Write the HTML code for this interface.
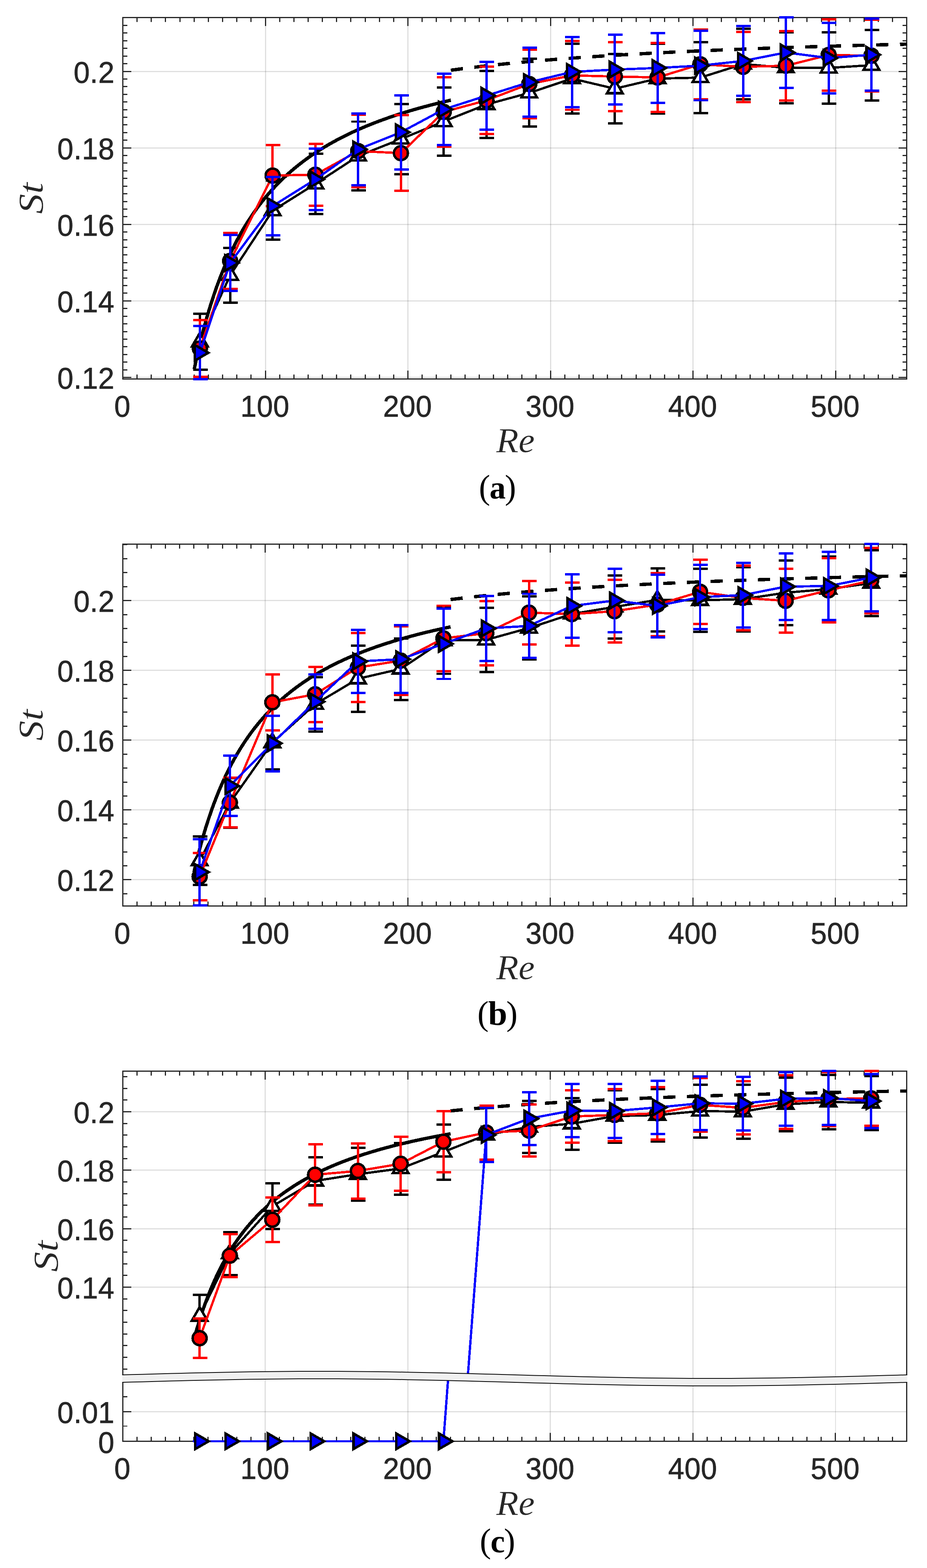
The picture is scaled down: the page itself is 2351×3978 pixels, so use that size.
<!DOCTYPE html>
<html lang="en"><head><meta charset="utf-8"><title>Strouhal number versus Reynolds number</title>
<style>html,body{margin:0;padding:0;background:#fff}body{width:2351px;height:3978px;overflow:hidden}svg{display:block}.tk{font-family:"Liberation Sans",sans-serif;font-size:75px;fill:#262626;stroke:#262626;stroke-width:0.9px;letter-spacing:0.6px}.ax{font-family:"Liberation Serif",serif;font-style:italic;font-size:89px;fill:#262626;stroke:#fff;stroke-width:0.5px}.cp{font-family:"Liberation Serif",serif;font-size:86px;fill:#000;letter-spacing:-3px}.cp tspan{font-weight:bold;font-size:82px}.cp .rp{font-weight:normal;font-size:86px}</style></head><body>
<svg width="2351" height="3978" viewBox="0 0 2351 3978">
<rect width="2351" height="3978" fill="#fff"/>
<g id="plot-a">
<g class="grid">
<rect x="672" y="44.5" width="3" height="917" fill="#262626" fill-opacity="0.15"/>
<rect x="1033" y="44.5" width="3" height="917" fill="#262626" fill-opacity="0.15"/>
<rect x="1395" y="44.5" width="3" height="917" fill="#262626" fill-opacity="0.15"/>
<rect x="1756" y="44.5" width="3" height="917" fill="#262626" fill-opacity="0.15"/>
<rect x="2118" y="44.5" width="3" height="917" fill="#262626" fill-opacity="0.15"/>
<rect x="311.5" y="956" width="1988" height="3" fill="#262626" fill-opacity="0.15"/>
<rect x="311.5" y="762" width="1988" height="3" fill="#262626" fill-opacity="0.15"/>
<rect x="311.5" y="568" width="1988" height="3" fill="#262626" fill-opacity="0.15"/>
<rect x="311.5" y="374" width="1988" height="3" fill="#262626" fill-opacity="0.15"/>
<rect x="311.5" y="180" width="1988" height="3" fill="#262626" fill-opacity="0.15"/>
</g>
<g class="axes">
<rect x="311.5" y="44.5" width="1988" height="917" fill="none" stroke="#262626" stroke-width="3"/>
<rect x="672" y="940.2" width="3" height="21.3" fill="#262626"/>
<rect x="1033" y="940.2" width="3" height="21.3" fill="#262626"/>
<rect x="1395" y="940.2" width="3" height="21.3" fill="#262626"/>
<rect x="1756" y="940.2" width="3" height="21.3" fill="#262626"/>
<rect x="2118" y="940.2" width="3" height="21.3" fill="#262626"/>
<rect x="346" y="950.2" width="3" height="11.3" fill="#262626"/>
<rect x="382" y="950.2" width="3" height="11.3" fill="#262626"/>
<rect x="418" y="950.2" width="3" height="11.3" fill="#262626"/>
<rect x="455" y="950.2" width="3" height="11.3" fill="#262626"/>
<rect x="491" y="950.2" width="3" height="11.3" fill="#262626"/>
<rect x="527" y="950.2" width="3" height="11.3" fill="#262626"/>
<rect x="563" y="950.2" width="3" height="11.3" fill="#262626"/>
<rect x="599" y="950.2" width="3" height="11.3" fill="#262626"/>
<rect x="635" y="950.2" width="3" height="11.3" fill="#262626"/>
<rect x="708" y="950.2" width="3" height="11.3" fill="#262626"/>
<rect x="744" y="950.2" width="3" height="11.3" fill="#262626"/>
<rect x="780" y="950.2" width="3" height="11.3" fill="#262626"/>
<rect x="816" y="950.2" width="3" height="11.3" fill="#262626"/>
<rect x="852" y="950.2" width="3" height="11.3" fill="#262626"/>
<rect x="888" y="950.2" width="3" height="11.3" fill="#262626"/>
<rect x="925" y="950.2" width="3" height="11.3" fill="#262626"/>
<rect x="961" y="950.2" width="3" height="11.3" fill="#262626"/>
<rect x="997" y="950.2" width="3" height="11.3" fill="#262626"/>
<rect x="1069" y="950.2" width="3" height="11.3" fill="#262626"/>
<rect x="1105" y="950.2" width="3" height="11.3" fill="#262626"/>
<rect x="1142" y="950.2" width="3" height="11.3" fill="#262626"/>
<rect x="1178" y="950.2" width="3" height="11.3" fill="#262626"/>
<rect x="1214" y="950.2" width="3" height="11.3" fill="#262626"/>
<rect x="1250" y="950.2" width="3" height="11.3" fill="#262626"/>
<rect x="1286" y="950.2" width="3" height="11.3" fill="#262626"/>
<rect x="1322" y="950.2" width="3" height="11.3" fill="#262626"/>
<rect x="1358" y="950.2" width="3" height="11.3" fill="#262626"/>
<rect x="1431" y="950.2" width="3" height="11.3" fill="#262626"/>
<rect x="1467" y="950.2" width="3" height="11.3" fill="#262626"/>
<rect x="1503" y="950.2" width="3" height="11.3" fill="#262626"/>
<rect x="1539" y="950.2" width="3" height="11.3" fill="#262626"/>
<rect x="1575" y="950.2" width="3" height="11.3" fill="#262626"/>
<rect x="1612" y="950.2" width="3" height="11.3" fill="#262626"/>
<rect x="1648" y="950.2" width="3" height="11.3" fill="#262626"/>
<rect x="1684" y="950.2" width="3" height="11.3" fill="#262626"/>
<rect x="1720" y="950.2" width="3" height="11.3" fill="#262626"/>
<rect x="1792" y="950.2" width="3" height="11.3" fill="#262626"/>
<rect x="1828" y="950.2" width="3" height="11.3" fill="#262626"/>
<rect x="1865" y="950.2" width="3" height="11.3" fill="#262626"/>
<rect x="1901" y="950.2" width="3" height="11.3" fill="#262626"/>
<rect x="1937" y="950.2" width="3" height="11.3" fill="#262626"/>
<rect x="1973" y="950.2" width="3" height="11.3" fill="#262626"/>
<rect x="2009" y="950.2" width="3" height="11.3" fill="#262626"/>
<rect x="2045" y="950.2" width="3" height="11.3" fill="#262626"/>
<rect x="2082" y="950.2" width="3" height="11.3" fill="#262626"/>
<rect x="2154" y="950.2" width="3" height="11.3" fill="#262626"/>
<rect x="2190" y="950.2" width="3" height="11.3" fill="#262626"/>
<rect x="2226" y="950.2" width="3" height="11.3" fill="#262626"/>
<rect x="2262" y="950.2" width="3" height="11.3" fill="#262626"/>
<rect x="672" y="44.5" width="3" height="21.5" fill="#262626"/>
<rect x="1033" y="44.5" width="3" height="21.5" fill="#262626"/>
<rect x="1395" y="44.5" width="3" height="21.5" fill="#262626"/>
<rect x="1756" y="44.5" width="3" height="21.5" fill="#262626"/>
<rect x="2118" y="44.5" width="3" height="21.5" fill="#262626"/>
<rect x="346" y="44.5" width="3" height="11.3" fill="#262626"/>
<rect x="382" y="44.5" width="3" height="11.3" fill="#262626"/>
<rect x="418" y="44.5" width="3" height="11.3" fill="#262626"/>
<rect x="455" y="44.5" width="3" height="11.3" fill="#262626"/>
<rect x="491" y="44.5" width="3" height="11.3" fill="#262626"/>
<rect x="527" y="44.5" width="3" height="11.3" fill="#262626"/>
<rect x="563" y="44.5" width="3" height="11.3" fill="#262626"/>
<rect x="599" y="44.5" width="3" height="11.3" fill="#262626"/>
<rect x="635" y="44.5" width="3" height="11.3" fill="#262626"/>
<rect x="708" y="44.5" width="3" height="11.3" fill="#262626"/>
<rect x="744" y="44.5" width="3" height="11.3" fill="#262626"/>
<rect x="780" y="44.5" width="3" height="11.3" fill="#262626"/>
<rect x="816" y="44.5" width="3" height="11.3" fill="#262626"/>
<rect x="852" y="44.5" width="3" height="11.3" fill="#262626"/>
<rect x="888" y="44.5" width="3" height="11.3" fill="#262626"/>
<rect x="925" y="44.5" width="3" height="11.3" fill="#262626"/>
<rect x="961" y="44.5" width="3" height="11.3" fill="#262626"/>
<rect x="997" y="44.5" width="3" height="11.3" fill="#262626"/>
<rect x="1069" y="44.5" width="3" height="11.3" fill="#262626"/>
<rect x="1105" y="44.5" width="3" height="11.3" fill="#262626"/>
<rect x="1142" y="44.5" width="3" height="11.3" fill="#262626"/>
<rect x="1178" y="44.5" width="3" height="11.3" fill="#262626"/>
<rect x="1214" y="44.5" width="3" height="11.3" fill="#262626"/>
<rect x="1250" y="44.5" width="3" height="11.3" fill="#262626"/>
<rect x="1286" y="44.5" width="3" height="11.3" fill="#262626"/>
<rect x="1322" y="44.5" width="3" height="11.3" fill="#262626"/>
<rect x="1358" y="44.5" width="3" height="11.3" fill="#262626"/>
<rect x="1431" y="44.5" width="3" height="11.3" fill="#262626"/>
<rect x="1467" y="44.5" width="3" height="11.3" fill="#262626"/>
<rect x="1503" y="44.5" width="3" height="11.3" fill="#262626"/>
<rect x="1539" y="44.5" width="3" height="11.3" fill="#262626"/>
<rect x="1575" y="44.5" width="3" height="11.3" fill="#262626"/>
<rect x="1612" y="44.5" width="3" height="11.3" fill="#262626"/>
<rect x="1648" y="44.5" width="3" height="11.3" fill="#262626"/>
<rect x="1684" y="44.5" width="3" height="11.3" fill="#262626"/>
<rect x="1720" y="44.5" width="3" height="11.3" fill="#262626"/>
<rect x="1792" y="44.5" width="3" height="11.3" fill="#262626"/>
<rect x="1828" y="44.5" width="3" height="11.3" fill="#262626"/>
<rect x="1865" y="44.5" width="3" height="11.3" fill="#262626"/>
<rect x="1901" y="44.5" width="3" height="11.3" fill="#262626"/>
<rect x="1937" y="44.5" width="3" height="11.3" fill="#262626"/>
<rect x="1973" y="44.5" width="3" height="11.3" fill="#262626"/>
<rect x="2009" y="44.5" width="3" height="11.3" fill="#262626"/>
<rect x="2045" y="44.5" width="3" height="11.3" fill="#262626"/>
<rect x="2082" y="44.5" width="3" height="11.3" fill="#262626"/>
<rect x="2154" y="44.5" width="3" height="11.3" fill="#262626"/>
<rect x="2190" y="44.5" width="3" height="11.3" fill="#262626"/>
<rect x="2226" y="44.5" width="3" height="11.3" fill="#262626"/>
<rect x="2262" y="44.5" width="3" height="11.3" fill="#262626"/>
<rect x="311.5" y="956" width="21.5" height="3" fill="#262626"/>
<rect x="2279" y="956" width="20.5" height="3" fill="#262626"/>
<rect x="311.5" y="937" width="11.5" height="3" fill="#262626"/>
<rect x="2289" y="937" width="10.5" height="3" fill="#262626"/>
<rect x="311.5" y="917" width="11.5" height="3" fill="#262626"/>
<rect x="2289" y="917" width="10.5" height="3" fill="#262626"/>
<rect x="311.5" y="898" width="11.5" height="3" fill="#262626"/>
<rect x="2289" y="898" width="10.5" height="3" fill="#262626"/>
<rect x="311.5" y="878" width="11.5" height="3" fill="#262626"/>
<rect x="2289" y="878" width="10.5" height="3" fill="#262626"/>
<rect x="311.5" y="859" width="11.5" height="3" fill="#262626"/>
<rect x="2289" y="859" width="10.5" height="3" fill="#262626"/>
<rect x="311.5" y="840" width="11.5" height="3" fill="#262626"/>
<rect x="2289" y="840" width="10.5" height="3" fill="#262626"/>
<rect x="311.5" y="820" width="11.5" height="3" fill="#262626"/>
<rect x="2289" y="820" width="10.5" height="3" fill="#262626"/>
<rect x="311.5" y="801" width="11.5" height="3" fill="#262626"/>
<rect x="2289" y="801" width="10.5" height="3" fill="#262626"/>
<rect x="311.5" y="781" width="11.5" height="3" fill="#262626"/>
<rect x="2289" y="781" width="10.5" height="3" fill="#262626"/>
<rect x="311.5" y="762" width="21.5" height="3" fill="#262626"/>
<rect x="2279" y="762" width="20.5" height="3" fill="#262626"/>
<rect x="311.5" y="742" width="11.5" height="3" fill="#262626"/>
<rect x="2289" y="742" width="10.5" height="3" fill="#262626"/>
<rect x="311.5" y="723" width="11.5" height="3" fill="#262626"/>
<rect x="2289" y="723" width="10.5" height="3" fill="#262626"/>
<rect x="311.5" y="704" width="11.5" height="3" fill="#262626"/>
<rect x="2289" y="704" width="10.5" height="3" fill="#262626"/>
<rect x="311.5" y="684" width="11.5" height="3" fill="#262626"/>
<rect x="2289" y="684" width="10.5" height="3" fill="#262626"/>
<rect x="311.5" y="665" width="11.5" height="3" fill="#262626"/>
<rect x="2289" y="665" width="10.5" height="3" fill="#262626"/>
<rect x="311.5" y="645" width="11.5" height="3" fill="#262626"/>
<rect x="2289" y="645" width="10.5" height="3" fill="#262626"/>
<rect x="311.5" y="626" width="11.5" height="3" fill="#262626"/>
<rect x="2289" y="626" width="10.5" height="3" fill="#262626"/>
<rect x="311.5" y="607" width="11.5" height="3" fill="#262626"/>
<rect x="2289" y="607" width="10.5" height="3" fill="#262626"/>
<rect x="311.5" y="587" width="11.5" height="3" fill="#262626"/>
<rect x="2289" y="587" width="10.5" height="3" fill="#262626"/>
<rect x="311.5" y="568" width="21.5" height="3" fill="#262626"/>
<rect x="2279" y="568" width="20.5" height="3" fill="#262626"/>
<rect x="311.5" y="548" width="11.5" height="3" fill="#262626"/>
<rect x="2289" y="548" width="10.5" height="3" fill="#262626"/>
<rect x="311.5" y="529" width="11.5" height="3" fill="#262626"/>
<rect x="2289" y="529" width="10.5" height="3" fill="#262626"/>
<rect x="311.5" y="510" width="11.5" height="3" fill="#262626"/>
<rect x="2289" y="510" width="10.5" height="3" fill="#262626"/>
<rect x="311.5" y="490" width="11.5" height="3" fill="#262626"/>
<rect x="2289" y="490" width="10.5" height="3" fill="#262626"/>
<rect x="311.5" y="471" width="11.5" height="3" fill="#262626"/>
<rect x="2289" y="471" width="10.5" height="3" fill="#262626"/>
<rect x="311.5" y="451" width="11.5" height="3" fill="#262626"/>
<rect x="2289" y="451" width="10.5" height="3" fill="#262626"/>
<rect x="311.5" y="432" width="11.5" height="3" fill="#262626"/>
<rect x="2289" y="432" width="10.5" height="3" fill="#262626"/>
<rect x="311.5" y="412" width="11.5" height="3" fill="#262626"/>
<rect x="2289" y="412" width="10.5" height="3" fill="#262626"/>
<rect x="311.5" y="393" width="11.5" height="3" fill="#262626"/>
<rect x="2289" y="393" width="10.5" height="3" fill="#262626"/>
<rect x="311.5" y="374" width="21.5" height="3" fill="#262626"/>
<rect x="2279" y="374" width="20.5" height="3" fill="#262626"/>
<rect x="311.5" y="354" width="11.5" height="3" fill="#262626"/>
<rect x="2289" y="354" width="10.5" height="3" fill="#262626"/>
<rect x="311.5" y="335" width="11.5" height="3" fill="#262626"/>
<rect x="2289" y="335" width="10.5" height="3" fill="#262626"/>
<rect x="311.5" y="315" width="11.5" height="3" fill="#262626"/>
<rect x="2289" y="315" width="10.5" height="3" fill="#262626"/>
<rect x="311.5" y="296" width="11.5" height="3" fill="#262626"/>
<rect x="2289" y="296" width="10.5" height="3" fill="#262626"/>
<rect x="311.5" y="277" width="11.5" height="3" fill="#262626"/>
<rect x="2289" y="277" width="10.5" height="3" fill="#262626"/>
<rect x="311.5" y="257" width="11.5" height="3" fill="#262626"/>
<rect x="2289" y="257" width="10.5" height="3" fill="#262626"/>
<rect x="311.5" y="238" width="11.5" height="3" fill="#262626"/>
<rect x="2289" y="238" width="10.5" height="3" fill="#262626"/>
<rect x="311.5" y="218" width="11.5" height="3" fill="#262626"/>
<rect x="2289" y="218" width="10.5" height="3" fill="#262626"/>
<rect x="311.5" y="199" width="11.5" height="3" fill="#262626"/>
<rect x="2289" y="199" width="10.5" height="3" fill="#262626"/>
<rect x="311.5" y="180" width="21.5" height="3" fill="#262626"/>
<rect x="2279" y="180" width="20.5" height="3" fill="#262626"/>
<rect x="311.5" y="160" width="11.5" height="3" fill="#262626"/>
<rect x="2289" y="160" width="10.5" height="3" fill="#262626"/>
<rect x="311.5" y="141" width="11.5" height="3" fill="#262626"/>
<rect x="2289" y="141" width="10.5" height="3" fill="#262626"/>
<rect x="311.5" y="121" width="11.5" height="3" fill="#262626"/>
<rect x="2289" y="121" width="10.5" height="3" fill="#262626"/>
<rect x="311.5" y="102" width="11.5" height="3" fill="#262626"/>
<rect x="2289" y="102" width="10.5" height="3" fill="#262626"/>
<rect x="311.5" y="82" width="11.5" height="3" fill="#262626"/>
<rect x="2289" y="82" width="10.5" height="3" fill="#262626"/>
<rect x="311.5" y="63" width="11.5" height="3" fill="#262626"/>
<rect x="2289" y="63" width="10.5" height="3" fill="#262626"/>
</g>
<g class="data" shape-rendering="crispEdges">
<g class="fit">
<polyline points="492.5,937.02 499.73,903.46 506.96,872.39 514.2,843.54 521.43,816.68 528.66,791.6 535.89,768.15 543.12,746.16 550.36,725.51 557.59,706.06 564.82,687.73 572.05,670.42 579.28,654.05 586.52,638.53 593.75,623.82 600.98,609.83 608.21,596.53 615.44,583.87 622.68,571.79 629.91,560.26 637.14,549.24 644.37,538.71 651.6,528.62 658.84,518.95 666.07,509.67 673.3,500.77 680.53,492.22 687.76,483.99 695,476.08 702.23,468.46 709.46,461.11 716.69,454.03 723.92,447.2 731.16,440.6 738.39,434.22 745.62,428.06 752.85,422.1 760.08,416.34 767.32,410.75 774.55,405.34 781.78,400.1 789.01,395.01 796.24,390.08 803.48,385.29 810.71,380.64 817.94,376.13 825.17,371.74 832.4,367.47 839.64,363.32 846.87,359.28 854.1,355.35 861.33,351.53 868.56,347.8 875.8,344.17 883.03,340.63 890.26,337.18 897.49,333.81 904.72,330.53 911.96,327.32 919.19,324.19 926.42,321.14 933.65,318.16 940.88,315.24 948.12,312.39 955.35,309.61 962.58,306.88 969.81,304.22 977.04,301.61 984.28,299.06 991.51,296.57 998.74,294.13 1005.97,291.73 1013.2,289.39 1020.44,287.1 1027.67,284.85 1034.9,282.65 1042.13,280.49 1049.36,278.37 1056.6,276.29 1063.83,274.26 1071.06,272.26 1078.29,270.3 1085.52,268.38 1092.76,266.49 1099.99,264.64 1107.22,262.82 1114.45,261.03 1121.68,259.28 1128.92,257.55 1136.15,255.86 1143.38,254.2" fill="none" stroke="#000" stroke-width="8.5"/>
<polyline points="1143.38,178.15 1172.31,174.33 1201.24,170.76 1230.16,167.41 1259.09,164.27 1288.02,161.31 1316.95,158.53 1345.88,155.9 1374.8,153.41 1403.73,151.06 1432.66,148.82 1461.59,146.7 1490.52,144.69 1519.44,142.77 1548.37,140.94 1577.3,139.19 1606.23,137.52 1635.16,135.93 1664.08,134.4 1693.01,132.94 1721.94,131.53 1750.87,130.18 1779.8,128.89 1808.72,127.65 1837.65,126.45 1866.58,125.3 1895.51,124.19 1924.44,123.12 1953.36,122.09 1982.29,121.09 2011.22,120.13 2040.15,119.2 2069.08,118.3 2098,117.42 2126.93,116.58 2155.86,115.76 2184.79,114.97 2213.72,114.21 2242.64,113.46 2271.57,112.74 2300.5,112.04" fill="none" stroke="#000" stroke-width="8.5" stroke-dasharray="30.9 29.18"/>
</g>
<g class="k">
<path d="M506.96 795.9V938M489.66 795.9H526.66M489.66 938H526.66" stroke="#000" stroke-width="5.9" fill="none"/>
<path d="M583.62 629.1V767.8M566.32 629.1H603.32M566.32 767.8H603.32" stroke="#000" stroke-width="5.9" fill="none"/>
<path d="M691.38 457.7V607.8M674.08 457.7H711.08M674.08 607.8H711.08" stroke="#000" stroke-width="5.9" fill="none"/>
<path d="M799.86 389.9V543M782.56 389.9H819.56M782.56 543H819.56" stroke="#000" stroke-width="5.9" fill="none"/>
<path d="M908.34 308.5V483.2M891.04 308.5H928.04M891.04 483.2H928.04" stroke="#000" stroke-width="5.9" fill="none"/>
<path d="M1016.82 263.9V441.8M999.52 263.9H1036.52M999.52 441.8H1036.52" stroke="#000" stroke-width="5.9" fill="none"/>
<path d="M1125.3 221.8V394.6M1108 221.8H1145M1108 394.6H1145" stroke="#000" stroke-width="5.9" fill="none"/>
<path d="M1233.78 180V349.9M1216.48 180H1253.48M1216.48 349.9H1253.48" stroke="#000" stroke-width="5.9" fill="none"/>
<path d="M1342.26 149.3V321.1M1324.96 149.3H1361.96M1324.96 321.1H1361.96" stroke="#000" stroke-width="5.9" fill="none"/>
<path d="M1450.74 110.9V288M1433.44 110.9H1470.44M1433.44 288H1470.44" stroke="#000" stroke-width="5.9" fill="none"/>
<path d="M1559.22 137V313M1541.92 137H1578.92M1541.92 313H1578.92" stroke="#000" stroke-width="5.9" fill="none"/>
<path d="M1667.7 111.4V287.7M1650.4 111.4H1687.4M1650.4 287.7H1687.4" stroke="#000" stroke-width="5.9" fill="none"/>
<path d="M1776.18 107.1V286.6M1758.88 107.1H1795.88M1758.88 286.6H1795.88" stroke="#000" stroke-width="5.9" fill="none"/>
<path d="M1884.66 72.6V252.4M1867.36 72.6H1904.36M1867.36 252.4H1904.36" stroke="#000" stroke-width="5.9" fill="none"/>
<path d="M1993.14 82V261.6M1975.84 82H2012.84M1975.84 261.6H2012.84" stroke="#000" stroke-width="5.9" fill="none"/>
<path d="M2101.62 81.8V262.8M2084.32 81.8H2121.32M2084.32 262.8H2121.32" stroke="#000" stroke-width="5.9" fill="none"/>
<path d="M2210.1 75.8V254.8M2192.8 75.8H2229.8M2192.8 254.8H2229.8" stroke="#000" stroke-width="5.9" fill="none"/>
<polyline points="506.96,867 583.62,698.5 691.38,534.6 799.86,466.5 908.34,395.8 1016.82,352.8 1125.3,308.2 1233.78,265 1342.26,235.7 1450.74,199.4 1559.22,225 1667.7,199.4 1776.18,196.9 1884.66,162.5 1993.14,171.8 2101.62,172.3 2210.1,165.3" fill="none" stroke="#000" stroke-width="5.8" stroke-linejoin="round"/>
<polygon points="506.96,844.2 487.22,878.4 526.71,878.4" fill="#fff" stroke="#000" stroke-width="6.2" stroke-miterlimit="10"/>
<polygon points="583.62,675.7 563.88,709.9 603.37,709.9" fill="#fff" stroke="#000" stroke-width="6.2" stroke-miterlimit="10"/>
<polygon points="691.38,511.8 671.64,546 711.12,546" fill="#fff" stroke="#000" stroke-width="6.2" stroke-miterlimit="10"/>
<polygon points="799.86,443.7 780.12,477.9 819.6,477.9" fill="#fff" stroke="#000" stroke-width="6.2" stroke-miterlimit="10"/>
<polygon points="908.34,373 888.6,407.2 928.08,407.2" fill="#fff" stroke="#000" stroke-width="6.2" stroke-miterlimit="10"/>
<polygon points="1016.82,330 997.08,364.2 1036.56,364.2" fill="#fff" stroke="#000" stroke-width="6.2" stroke-miterlimit="10"/>
<polygon points="1125.3,285.4 1105.56,319.6 1145.04,319.6" fill="#fff" stroke="#000" stroke-width="6.2" stroke-miterlimit="10"/>
<polygon points="1233.78,242.2 1214.04,276.4 1253.52,276.4" fill="#fff" stroke="#000" stroke-width="6.2" stroke-miterlimit="10"/>
<polygon points="1342.26,212.9 1322.52,247.1 1362,247.1" fill="#fff" stroke="#000" stroke-width="6.2" stroke-miterlimit="10"/>
<polygon points="1450.74,176.6 1431,210.8 1470.48,210.8" fill="#fff" stroke="#000" stroke-width="6.2" stroke-miterlimit="10"/>
<polygon points="1559.22,202.2 1539.48,236.4 1578.96,236.4" fill="#fff" stroke="#000" stroke-width="6.2" stroke-miterlimit="10"/>
<polygon points="1667.7,176.6 1647.96,210.8 1687.44,210.8" fill="#fff" stroke="#000" stroke-width="6.2" stroke-miterlimit="10"/>
<polygon points="1776.18,174.1 1756.44,208.3 1795.92,208.3" fill="#fff" stroke="#000" stroke-width="6.2" stroke-miterlimit="10"/>
<polygon points="1884.66,139.7 1864.92,173.9 1904.4,173.9" fill="#fff" stroke="#000" stroke-width="6.2" stroke-miterlimit="10"/>
<polygon points="1993.14,149 1973.4,183.2 2012.88,183.2" fill="#fff" stroke="#000" stroke-width="6.2" stroke-miterlimit="10"/>
<polygon points="2101.62,149.5 2081.88,183.7 2121.36,183.7" fill="#fff" stroke="#000" stroke-width="6.2" stroke-miterlimit="10"/>
<polygon points="2210.1,142.5 2190.36,176.7 2229.84,176.7" fill="#fff" stroke="#000" stroke-width="6.2" stroke-miterlimit="10"/>
</g>
<g class="r">
<path d="M506.96 812.1V956.2M489.66 812.1H526.66M489.66 956.2H526.66" stroke="#f00" stroke-width="5.9" fill="none"/>
<path d="M583.62 590.7V733.2M566.32 590.7H603.32M566.32 733.2H603.32" stroke="#f00" stroke-width="5.9" fill="none"/>
<path d="M691.38 368.4V522.8M674.08 368.4H711.08M674.08 522.8H711.08" stroke="#f00" stroke-width="5.9" fill="none"/>
<path d="M799.86 364.6V522M782.56 364.6H819.56M782.56 522H819.56" stroke="#f00" stroke-width="5.9" fill="none"/>
<path d="M908.34 290.8V474.8M891.04 290.8H928.04M891.04 474.8H928.04" stroke="#f00" stroke-width="5.9" fill="none"/>
<path d="M1016.82 291.9V484.1M999.52 291.9H1036.52M999.52 484.1H1036.52" stroke="#f00" stroke-width="5.9" fill="none"/>
<path d="M1125.3 195.7V372.2M1108 195.7H1145M1108 372.2H1145" stroke="#f00" stroke-width="5.9" fill="none"/>
<path d="M1233.78 169V339.9M1216.48 169H1253.48M1216.48 339.9H1253.48" stroke="#f00" stroke-width="5.9" fill="none"/>
<path d="M1342.26 126.2V300M1324.96 126.2H1361.96M1324.96 300H1361.96" stroke="#f00" stroke-width="5.9" fill="none"/>
<path d="M1450.74 104.1V278.5M1433.44 104.1H1470.44M1433.44 278.5H1470.44" stroke="#f00" stroke-width="5.9" fill="none"/>
<path d="M1559.22 107.1V282M1541.92 107.1H1578.92M1541.92 282H1578.92" stroke="#f00" stroke-width="5.9" fill="none"/>
<path d="M1667.7 109V284M1650.4 109H1687.4M1650.4 284H1687.4" stroke="#f00" stroke-width="5.9" fill="none"/>
<path d="M1776.18 74.5V251.8M1758.88 74.5H1795.88M1758.88 251.8H1795.88" stroke="#f00" stroke-width="5.9" fill="none"/>
<path d="M1884.66 80.7V259.1M1867.36 80.7H1904.36M1867.36 259.1H1904.36" stroke="#f00" stroke-width="5.9" fill="none"/>
<path d="M1993.14 78.6V254.8M1975.84 78.6H2012.84M1975.84 254.8H2012.84" stroke="#f00" stroke-width="5.9" fill="none"/>
<path d="M2101.62 49.2V230M2084.32 49.2H2121.32M2084.32 230H2121.32" stroke="#f00" stroke-width="5.9" fill="none"/>
<path d="M2210.1 50V232.4M2192.8 50H2229.8M2192.8 232.4H2229.8" stroke="#f00" stroke-width="5.9" fill="none"/>
<polyline points="506.96,884.1 583.62,662 691.38,445.4 799.86,443.3 908.34,383.3 1016.82,388.5 1125.3,284 1233.78,254.6 1342.26,213.1 1450.74,191.3 1559.22,194.2 1667.7,196.4 1776.18,163.2 1884.66,169.6 1993.14,166.6 2101.62,139.6 2210.1,141.2" fill="none" stroke="#f00" stroke-width="5.8" stroke-linejoin="round"/>
<circle cx="506.96" cy="884.1" r="17.75" fill="#f00" stroke="#000" stroke-width="6.2"/>
<circle cx="583.62" cy="662" r="17.75" fill="#f00" stroke="#000" stroke-width="6.2"/>
<circle cx="691.38" cy="445.4" r="17.75" fill="#f00" stroke="#000" stroke-width="6.2"/>
<circle cx="799.86" cy="443.3" r="17.75" fill="#f00" stroke="#000" stroke-width="6.2"/>
<circle cx="908.34" cy="383.3" r="17.75" fill="#f00" stroke="#000" stroke-width="6.2"/>
<circle cx="1016.82" cy="388.5" r="17.75" fill="#f00" stroke="#000" stroke-width="6.2"/>
<circle cx="1125.3" cy="284" r="17.75" fill="#f00" stroke="#000" stroke-width="6.2"/>
<circle cx="1233.78" cy="254.6" r="17.75" fill="#f00" stroke="#000" stroke-width="6.2"/>
<circle cx="1342.26" cy="213.1" r="17.75" fill="#f00" stroke="#000" stroke-width="6.2"/>
<circle cx="1450.74" cy="191.3" r="17.75" fill="#f00" stroke="#000" stroke-width="6.2"/>
<circle cx="1559.22" cy="194.2" r="17.75" fill="#f00" stroke="#000" stroke-width="6.2"/>
<circle cx="1667.7" cy="196.4" r="17.75" fill="#f00" stroke="#000" stroke-width="6.2"/>
<circle cx="1776.18" cy="163.2" r="17.75" fill="#f00" stroke="#000" stroke-width="6.2"/>
<circle cx="1884.66" cy="169.6" r="17.75" fill="#f00" stroke="#000" stroke-width="6.2"/>
<circle cx="1993.14" cy="166.6" r="17.75" fill="#f00" stroke="#000" stroke-width="6.2"/>
<circle cx="2101.62" cy="139.6" r="17.75" fill="#f00" stroke="#000" stroke-width="6.2"/>
<circle cx="2210.1" cy="141.2" r="17.75" fill="#f00" stroke="#000" stroke-width="6.2"/>
</g>
<g class="b">
<path d="M506.96 827.2V962M489.66 827.2H526.66M489.66 962H526.66" stroke="#00f" stroke-width="5.9" fill="none"/>
<path d="M583.62 596.4V737.9M566.32 596.4H603.32M566.32 737.9H603.32" stroke="#00f" stroke-width="5.9" fill="none"/>
<path d="M691.38 448.7V596.9M674.08 448.7H711.08M674.08 596.9H711.08" stroke="#00f" stroke-width="5.9" fill="none"/>
<path d="M799.86 377.3V533M782.56 377.3H819.56M782.56 533H819.56" stroke="#00f" stroke-width="5.9" fill="none"/>
<path d="M908.34 288.3V469.7M891.04 288.3H928.04M891.04 469.7H928.04" stroke="#00f" stroke-width="5.9" fill="none"/>
<path d="M1016.82 242V429.9M999.52 242H1036.52M999.52 429.9H1036.52" stroke="#00f" stroke-width="5.9" fill="none"/>
<path d="M1125.3 186.8V367.7M1108 186.8H1145M1108 367.7H1145" stroke="#00f" stroke-width="5.9" fill="none"/>
<path d="M1233.78 156.9V329.1M1216.48 156.9H1253.48M1216.48 329.1H1253.48" stroke="#00f" stroke-width="5.9" fill="none"/>
<path d="M1342.26 120.8V296.4M1324.96 120.8H1361.96M1324.96 296.4H1361.96" stroke="#00f" stroke-width="5.9" fill="none"/>
<path d="M1450.74 93.9V271.8M1433.44 93.9H1470.44M1433.44 271.8H1470.44" stroke="#00f" stroke-width="5.9" fill="none"/>
<path d="M1559.22 87.7V265M1541.92 87.7H1578.92M1541.92 265H1578.92" stroke="#00f" stroke-width="5.9" fill="none"/>
<path d="M1667.7 83.9V261M1650.4 83.9H1687.4M1650.4 261H1687.4" stroke="#00f" stroke-width="5.9" fill="none"/>
<path d="M1776.18 78V254.5M1758.88 78H1795.88M1758.88 254.5H1795.88" stroke="#00f" stroke-width="5.9" fill="none"/>
<path d="M1884.66 65.8V242.9M1867.36 65.8H1904.36M1867.36 242.9H1904.36" stroke="#00f" stroke-width="5.9" fill="none"/>
<path d="M1993.14 43.6V222.8M1975.84 43.6H2012.84M1975.84 222.8H2012.84" stroke="#00f" stroke-width="5.9" fill="none"/>
<path d="M2101.62 58V236.7M2084.32 58H2121.32M2084.32 236.7H2121.32" stroke="#00f" stroke-width="5.9" fill="none"/>
<path d="M2210.1 46.9V230.2M2192.8 46.9H2229.8M2192.8 230.2H2229.8" stroke="#00f" stroke-width="5.9" fill="none"/>
<polyline points="506.96,895 583.62,667.1 691.38,522.8 799.86,455.1 908.34,379 1016.82,335.5 1125.3,277.5 1233.78,242.7 1342.26,208.6 1450.74,182.5 1559.22,176.5 1667.7,172.5 1776.18,166.5 1884.66,154.6 1993.14,133.2 2101.62,147.2 2210.1,138.9" fill="none" stroke="#00f" stroke-width="5.8" stroke-linejoin="round"/>
<polygon points="528.46,895 494.26,875.26 494.26,914.74" fill="#00f" stroke="#000" stroke-width="6.2" stroke-miterlimit="10"/>
<polygon points="605.12,667.1 570.92,647.36 570.92,686.84" fill="#00f" stroke="#000" stroke-width="6.2" stroke-miterlimit="10"/>
<polygon points="712.88,522.8 678.68,503.06 678.68,542.54" fill="#00f" stroke="#000" stroke-width="6.2" stroke-miterlimit="10"/>
<polygon points="821.36,455.1 787.16,435.36 787.16,474.84" fill="#00f" stroke="#000" stroke-width="6.2" stroke-miterlimit="10"/>
<polygon points="929.84,379 895.64,359.26 895.64,398.74" fill="#00f" stroke="#000" stroke-width="6.2" stroke-miterlimit="10"/>
<polygon points="1038.32,335.5 1004.12,315.76 1004.12,355.24" fill="#00f" stroke="#000" stroke-width="6.2" stroke-miterlimit="10"/>
<polygon points="1146.8,277.5 1112.6,257.76 1112.6,297.24" fill="#00f" stroke="#000" stroke-width="6.2" stroke-miterlimit="10"/>
<polygon points="1255.28,242.7 1221.08,222.96 1221.08,262.44" fill="#00f" stroke="#000" stroke-width="6.2" stroke-miterlimit="10"/>
<polygon points="1363.76,208.6 1329.56,188.86 1329.56,228.34" fill="#00f" stroke="#000" stroke-width="6.2" stroke-miterlimit="10"/>
<polygon points="1472.24,182.5 1438.04,162.76 1438.04,202.24" fill="#00f" stroke="#000" stroke-width="6.2" stroke-miterlimit="10"/>
<polygon points="1580.72,176.5 1546.52,156.76 1546.52,196.24" fill="#00f" stroke="#000" stroke-width="6.2" stroke-miterlimit="10"/>
<polygon points="1689.2,172.5 1655,152.76 1655,192.24" fill="#00f" stroke="#000" stroke-width="6.2" stroke-miterlimit="10"/>
<polygon points="1797.68,166.5 1763.48,146.76 1763.48,186.24" fill="#00f" stroke="#000" stroke-width="6.2" stroke-miterlimit="10"/>
<polygon points="1906.16,154.6 1871.96,134.86 1871.96,174.34" fill="#00f" stroke="#000" stroke-width="6.2" stroke-miterlimit="10"/>
<polygon points="2014.64,133.2 1980.44,113.46 1980.44,152.94" fill="#00f" stroke="#000" stroke-width="6.2" stroke-miterlimit="10"/>
<polygon points="2123.12,147.2 2088.92,127.46 2088.92,166.94" fill="#00f" stroke="#000" stroke-width="6.2" stroke-miterlimit="10"/>
<polygon points="2231.6,138.9 2197.4,119.16 2197.4,158.64" fill="#00f" stroke="#000" stroke-width="6.2" stroke-miterlimit="10"/>
</g>
</g>
<text transform="translate(290.59 986.3) scale(0.98 1.01)" text-anchor="end" class="tk">0.12</text>
<text transform="translate(290.59 792.3) scale(0.98 1.01)" text-anchor="end" class="tk">0.14</text>
<text transform="translate(290.59 598.3) scale(0.98 1.01)" text-anchor="end" class="tk">0.16</text>
<text transform="translate(290.59 404.3) scale(0.98 1.01)" text-anchor="end" class="tk">0.18</text>
<text transform="translate(290.59 210.3) scale(0.98 1.01)" text-anchor="end" class="tk">0.2</text>
<text transform="translate(310.5 1056.8) scale(0.98 1.01)" text-anchor="middle" class="tk">0</text>
<text transform="translate(672.04 1056.8) scale(0.98 1.01)" text-anchor="middle" class="tk">100</text>
<text transform="translate(1033.58 1056.8) scale(0.98 1.01)" text-anchor="middle" class="tk">200</text>
<text transform="translate(1395.12 1056.8) scale(0.98 1.01)" text-anchor="middle" class="tk">300</text>
<text transform="translate(1756.66 1056.8) scale(0.98 1.01)" text-anchor="middle" class="tk">400</text>
<text transform="translate(2118.2 1056.8) scale(0.98 1.01)" text-anchor="middle" class="tk">500</text>
<text transform="translate(107.7 503) rotate(-90) scale(1.15 1)" text-anchor="middle" class="ax">St</text>
<text transform="translate(1307.3 1147.4) scale(1.04 1)" text-anchor="middle" class="ax">Re</text>
<text x="1260.2" y="1264.9" text-anchor="middle" class="cp">(<tspan dx="1.4">a</tspan><tspan class="rp" dx="0.6">)</tspan></text>
</g>
<g id="plot-b">
<g class="grid">
<rect x="671" y="1380.5" width="3" height="918" fill="#262626" fill-opacity="0.15"/>
<rect x="1033" y="1380.5" width="3" height="918" fill="#262626" fill-opacity="0.15"/>
<rect x="1394" y="1380.5" width="3" height="918" fill="#262626" fill-opacity="0.15"/>
<rect x="1756" y="1380.5" width="3" height="918" fill="#262626" fill-opacity="0.15"/>
<rect x="2118" y="1380.5" width="2" height="918" fill="#262626" fill-opacity="0.15"/>
<rect x="311.5" y="2230" width="1988" height="3" fill="#262626" fill-opacity="0.15"/>
<rect x="311.5" y="2053" width="1988" height="3" fill="#262626" fill-opacity="0.15"/>
<rect x="311.5" y="1876" width="1988" height="3" fill="#262626" fill-opacity="0.15"/>
<rect x="311.5" y="1699" width="1988" height="3" fill="#262626" fill-opacity="0.15"/>
<rect x="311.5" y="1522" width="1988" height="3" fill="#262626" fill-opacity="0.15"/>
</g>
<g class="axes">
<rect x="311.5" y="1380.5" width="1988" height="918" fill="none" stroke="#262626" stroke-width="3"/>
<rect x="671" y="2277.2" width="3" height="21.3" fill="#262626"/>
<rect x="1033" y="2277.2" width="3" height="21.3" fill="#262626"/>
<rect x="1394" y="2277.2" width="3" height="21.3" fill="#262626"/>
<rect x="1756" y="2277.2" width="3" height="21.3" fill="#262626"/>
<rect x="2117" y="2277.2" width="3" height="21.3" fill="#262626"/>
<rect x="346" y="2287.2" width="3" height="11.3" fill="#262626"/>
<rect x="382" y="2287.2" width="3" height="11.3" fill="#262626"/>
<rect x="418" y="2287.2" width="3" height="11.3" fill="#262626"/>
<rect x="454" y="2287.2" width="3" height="11.3" fill="#262626"/>
<rect x="490" y="2287.2" width="3" height="11.3" fill="#262626"/>
<rect x="526" y="2287.2" width="3" height="11.3" fill="#262626"/>
<rect x="563" y="2287.2" width="3" height="11.3" fill="#262626"/>
<rect x="599" y="2287.2" width="3" height="11.3" fill="#262626"/>
<rect x="635" y="2287.2" width="3" height="11.3" fill="#262626"/>
<rect x="707" y="2287.2" width="3" height="11.3" fill="#262626"/>
<rect x="743" y="2287.2" width="3" height="11.3" fill="#262626"/>
<rect x="780" y="2287.2" width="3" height="11.3" fill="#262626"/>
<rect x="816" y="2287.2" width="3" height="11.3" fill="#262626"/>
<rect x="852" y="2287.2" width="3" height="11.3" fill="#262626"/>
<rect x="888" y="2287.2" width="3" height="11.3" fill="#262626"/>
<rect x="924" y="2287.2" width="3" height="11.3" fill="#262626"/>
<rect x="960" y="2287.2" width="3" height="11.3" fill="#262626"/>
<rect x="996" y="2287.2" width="3" height="11.3" fill="#262626"/>
<rect x="1069" y="2287.2" width="3" height="11.3" fill="#262626"/>
<rect x="1105" y="2287.2" width="3" height="11.3" fill="#262626"/>
<rect x="1141" y="2287.2" width="3" height="11.3" fill="#262626"/>
<rect x="1177" y="2287.2" width="3" height="11.3" fill="#262626"/>
<rect x="1213" y="2287.2" width="3" height="11.3" fill="#262626"/>
<rect x="1250" y="2287.2" width="3" height="11.3" fill="#262626"/>
<rect x="1286" y="2287.2" width="3" height="11.3" fill="#262626"/>
<rect x="1322" y="2287.2" width="3" height="11.3" fill="#262626"/>
<rect x="1358" y="2287.2" width="3" height="11.3" fill="#262626"/>
<rect x="1430" y="2287.2" width="3" height="11.3" fill="#262626"/>
<rect x="1466" y="2287.2" width="3" height="11.3" fill="#262626"/>
<rect x="1503" y="2287.2" width="3" height="11.3" fill="#262626"/>
<rect x="1539" y="2287.2" width="3" height="11.3" fill="#262626"/>
<rect x="1575" y="2287.2" width="3" height="11.3" fill="#262626"/>
<rect x="1611" y="2287.2" width="3" height="11.3" fill="#262626"/>
<rect x="1647" y="2287.2" width="3" height="11.3" fill="#262626"/>
<rect x="1683" y="2287.2" width="3" height="11.3" fill="#262626"/>
<rect x="1720" y="2287.2" width="3" height="11.3" fill="#262626"/>
<rect x="1792" y="2287.2" width="3" height="11.3" fill="#262626"/>
<rect x="1828" y="2287.2" width="3" height="11.3" fill="#262626"/>
<rect x="1864" y="2287.2" width="3" height="11.3" fill="#262626"/>
<rect x="1900" y="2287.2" width="3" height="11.3" fill="#262626"/>
<rect x="1936" y="2287.2" width="3" height="11.3" fill="#262626"/>
<rect x="1973" y="2287.2" width="3" height="11.3" fill="#262626"/>
<rect x="2009" y="2287.2" width="3" height="11.3" fill="#262626"/>
<rect x="2045" y="2287.2" width="3" height="11.3" fill="#262626"/>
<rect x="2081" y="2287.2" width="3" height="11.3" fill="#262626"/>
<rect x="2153" y="2287.2" width="3" height="11.3" fill="#262626"/>
<rect x="2190" y="2287.2" width="3" height="11.3" fill="#262626"/>
<rect x="2226" y="2287.2" width="3" height="11.3" fill="#262626"/>
<rect x="2262" y="2287.2" width="3" height="11.3" fill="#262626"/>
<rect x="671" y="1380.5" width="3" height="21.5" fill="#262626"/>
<rect x="1033" y="1380.5" width="3" height="21.5" fill="#262626"/>
<rect x="1394" y="1380.5" width="3" height="21.5" fill="#262626"/>
<rect x="1756" y="1380.5" width="3" height="21.5" fill="#262626"/>
<rect x="2117" y="1380.5" width="3" height="21.5" fill="#262626"/>
<rect x="346" y="1380.5" width="3" height="11.3" fill="#262626"/>
<rect x="382" y="1380.5" width="3" height="11.3" fill="#262626"/>
<rect x="418" y="1380.5" width="3" height="11.3" fill="#262626"/>
<rect x="454" y="1380.5" width="3" height="11.3" fill="#262626"/>
<rect x="490" y="1380.5" width="3" height="11.3" fill="#262626"/>
<rect x="526" y="1380.5" width="3" height="11.3" fill="#262626"/>
<rect x="563" y="1380.5" width="3" height="11.3" fill="#262626"/>
<rect x="599" y="1380.5" width="3" height="11.3" fill="#262626"/>
<rect x="635" y="1380.5" width="3" height="11.3" fill="#262626"/>
<rect x="707" y="1380.5" width="3" height="11.3" fill="#262626"/>
<rect x="743" y="1380.5" width="3" height="11.3" fill="#262626"/>
<rect x="780" y="1380.5" width="3" height="11.3" fill="#262626"/>
<rect x="816" y="1380.5" width="3" height="11.3" fill="#262626"/>
<rect x="852" y="1380.5" width="3" height="11.3" fill="#262626"/>
<rect x="888" y="1380.5" width="3" height="11.3" fill="#262626"/>
<rect x="924" y="1380.5" width="3" height="11.3" fill="#262626"/>
<rect x="960" y="1380.5" width="3" height="11.3" fill="#262626"/>
<rect x="996" y="1380.5" width="3" height="11.3" fill="#262626"/>
<rect x="1069" y="1380.5" width="3" height="11.3" fill="#262626"/>
<rect x="1105" y="1380.5" width="3" height="11.3" fill="#262626"/>
<rect x="1141" y="1380.5" width="3" height="11.3" fill="#262626"/>
<rect x="1177" y="1380.5" width="3" height="11.3" fill="#262626"/>
<rect x="1213" y="1380.5" width="3" height="11.3" fill="#262626"/>
<rect x="1250" y="1380.5" width="3" height="11.3" fill="#262626"/>
<rect x="1286" y="1380.5" width="3" height="11.3" fill="#262626"/>
<rect x="1322" y="1380.5" width="3" height="11.3" fill="#262626"/>
<rect x="1358" y="1380.5" width="3" height="11.3" fill="#262626"/>
<rect x="1430" y="1380.5" width="3" height="11.3" fill="#262626"/>
<rect x="1466" y="1380.5" width="3" height="11.3" fill="#262626"/>
<rect x="1503" y="1380.5" width="3" height="11.3" fill="#262626"/>
<rect x="1539" y="1380.5" width="3" height="11.3" fill="#262626"/>
<rect x="1575" y="1380.5" width="3" height="11.3" fill="#262626"/>
<rect x="1611" y="1380.5" width="3" height="11.3" fill="#262626"/>
<rect x="1647" y="1380.5" width="3" height="11.3" fill="#262626"/>
<rect x="1683" y="1380.5" width="3" height="11.3" fill="#262626"/>
<rect x="1720" y="1380.5" width="3" height="11.3" fill="#262626"/>
<rect x="1792" y="1380.5" width="3" height="11.3" fill="#262626"/>
<rect x="1828" y="1380.5" width="3" height="11.3" fill="#262626"/>
<rect x="1864" y="1380.5" width="3" height="11.3" fill="#262626"/>
<rect x="1900" y="1380.5" width="3" height="11.3" fill="#262626"/>
<rect x="1936" y="1380.5" width="3" height="11.3" fill="#262626"/>
<rect x="1973" y="1380.5" width="3" height="11.3" fill="#262626"/>
<rect x="2009" y="1380.5" width="3" height="11.3" fill="#262626"/>
<rect x="2045" y="1380.5" width="3" height="11.3" fill="#262626"/>
<rect x="2081" y="1380.5" width="3" height="11.3" fill="#262626"/>
<rect x="2153" y="1380.5" width="3" height="11.3" fill="#262626"/>
<rect x="2190" y="1380.5" width="3" height="11.3" fill="#262626"/>
<rect x="2226" y="1380.5" width="3" height="11.3" fill="#262626"/>
<rect x="2262" y="1380.5" width="3" height="11.3" fill="#262626"/>
<rect x="311.5" y="2266" width="11.5" height="3" fill="#262626"/>
<rect x="2289" y="2266" width="10.5" height="3" fill="#262626"/>
<rect x="311.5" y="2230" width="21.5" height="3" fill="#262626"/>
<rect x="2279" y="2230" width="20.5" height="3" fill="#262626"/>
<rect x="311.5" y="2195" width="11.5" height="3" fill="#262626"/>
<rect x="2289" y="2195" width="10.5" height="3" fill="#262626"/>
<rect x="311.5" y="2160" width="11.5" height="3" fill="#262626"/>
<rect x="2289" y="2160" width="10.5" height="3" fill="#262626"/>
<rect x="311.5" y="2124" width="11.5" height="3" fill="#262626"/>
<rect x="2289" y="2124" width="10.5" height="3" fill="#262626"/>
<rect x="311.5" y="2089" width="11.5" height="3" fill="#262626"/>
<rect x="2289" y="2089" width="10.5" height="3" fill="#262626"/>
<rect x="311.5" y="2053" width="21.5" height="3" fill="#262626"/>
<rect x="2279" y="2053" width="20.5" height="3" fill="#262626"/>
<rect x="311.5" y="2018" width="11.5" height="3" fill="#262626"/>
<rect x="2289" y="2018" width="10.5" height="3" fill="#262626"/>
<rect x="311.5" y="1983" width="11.5" height="3" fill="#262626"/>
<rect x="2289" y="1983" width="10.5" height="3" fill="#262626"/>
<rect x="311.5" y="1947" width="11.5" height="3" fill="#262626"/>
<rect x="2289" y="1947" width="10.5" height="3" fill="#262626"/>
<rect x="311.5" y="1912" width="11.5" height="3" fill="#262626"/>
<rect x="2289" y="1912" width="10.5" height="3" fill="#262626"/>
<rect x="311.5" y="1876" width="21.5" height="3" fill="#262626"/>
<rect x="2279" y="1876" width="20.5" height="3" fill="#262626"/>
<rect x="311.5" y="1841" width="11.5" height="3" fill="#262626"/>
<rect x="2289" y="1841" width="10.5" height="3" fill="#262626"/>
<rect x="311.5" y="1805" width="11.5" height="3" fill="#262626"/>
<rect x="2289" y="1805" width="10.5" height="3" fill="#262626"/>
<rect x="311.5" y="1770" width="11.5" height="3" fill="#262626"/>
<rect x="2289" y="1770" width="10.5" height="3" fill="#262626"/>
<rect x="311.5" y="1735" width="11.5" height="3" fill="#262626"/>
<rect x="2289" y="1735" width="10.5" height="3" fill="#262626"/>
<rect x="311.5" y="1699" width="21.5" height="3" fill="#262626"/>
<rect x="2279" y="1699" width="20.5" height="3" fill="#262626"/>
<rect x="311.5" y="1664" width="11.5" height="3" fill="#262626"/>
<rect x="2289" y="1664" width="10.5" height="3" fill="#262626"/>
<rect x="311.5" y="1628" width="11.5" height="3" fill="#262626"/>
<rect x="2289" y="1628" width="10.5" height="3" fill="#262626"/>
<rect x="311.5" y="1593" width="11.5" height="3" fill="#262626"/>
<rect x="2289" y="1593" width="10.5" height="3" fill="#262626"/>
<rect x="311.5" y="1558" width="11.5" height="3" fill="#262626"/>
<rect x="2289" y="1558" width="10.5" height="3" fill="#262626"/>
<rect x="311.5" y="1522" width="21.5" height="3" fill="#262626"/>
<rect x="2279" y="1522" width="20.5" height="3" fill="#262626"/>
<rect x="311.5" y="1487" width="11.5" height="3" fill="#262626"/>
<rect x="2289" y="1487" width="10.5" height="3" fill="#262626"/>
<rect x="311.5" y="1451" width="11.5" height="3" fill="#262626"/>
<rect x="2289" y="1451" width="10.5" height="3" fill="#262626"/>
<rect x="311.5" y="1416" width="11.5" height="3" fill="#262626"/>
<rect x="2289" y="1416" width="10.5" height="3" fill="#262626"/>
<rect x="311.5" y="1380" width="11.5" height="3" fill="#262626"/>
<rect x="2289" y="1380" width="10.5" height="3" fill="#262626"/>
</g>
<g class="data" shape-rendering="crispEdges">
<g class="fit">
<polyline points="491.8,2213.22 499.03,2182.61 506.26,2154.27 513.5,2127.95 520.73,2103.45 527.96,2080.58 535.19,2059.18 542.42,2039.12 549.66,2020.28 556.89,2002.55 564.12,1985.83 571.35,1970.04 578.58,1955.1 585.82,1940.95 593.05,1927.52 600.28,1914.77 607.51,1902.64 614.74,1891.08 621.98,1880.07 629.21,1869.55 636.44,1859.5 643.67,1849.89 650.9,1840.69 658.14,1831.87 665.37,1823.41 672.6,1815.29 679.83,1807.48 687.06,1799.98 694.3,1792.76 701.53,1785.81 708.76,1779.11 715.99,1772.65 723.22,1766.42 730.46,1760.4 737.69,1754.58 744.92,1748.96 752.15,1743.53 759.38,1738.27 766.62,1733.17 773.85,1728.24 781.08,1723.46 788.31,1718.82 795.54,1714.32 802.78,1709.95 810.01,1705.71 817.24,1701.59 824.47,1697.59 831.7,1693.7 838.94,1689.91 846.17,1686.23 853.4,1682.64 860.63,1679.15 867.86,1675.75 875.1,1672.44 882.33,1669.21 889.56,1666.06 896.79,1662.99 904.02,1659.99 911.26,1657.07 918.49,1654.22 925.72,1651.43 932.95,1648.71 940.18,1646.05 947.42,1643.45 954.65,1640.91 961.88,1638.43 969.11,1636 976.34,1633.62 983.58,1631.3 990.81,1629.02 998.04,1626.79 1005.27,1624.61 1012.5,1622.47 1019.74,1620.38 1026.97,1618.33 1034.2,1616.32 1041.43,1614.35 1048.66,1612.42 1055.9,1610.52 1063.13,1608.67 1070.36,1606.84 1077.59,1605.06 1084.82,1603.3 1092.06,1601.58 1099.29,1599.89 1106.52,1598.23 1113.75,1596.6 1120.98,1595 1128.22,1593.43 1135.45,1591.88 1142.68,1590.37" fill="none" stroke="#000" stroke-width="8.5"/>
<polyline points="1142.68,1521 1171.61,1517.51 1200.54,1514.26 1229.46,1511.2 1258.39,1508.34 1287.32,1505.64 1316.25,1503.1 1345.18,1500.7 1374.1,1498.44 1403.03,1496.29 1431.96,1494.25 1460.89,1492.32 1489.82,1490.48 1518.74,1488.72 1547.67,1487.06 1576.6,1485.46 1605.53,1483.94 1634.46,1482.48 1663.38,1481.09 1692.31,1479.76 1721.24,1478.48 1750.17,1477.25 1779.1,1476.07 1808.02,1474.93 1836.95,1473.84 1865.88,1472.79 1894.81,1471.78 1923.74,1470.8 1952.66,1469.86 1981.59,1468.95 2010.52,1468.07 2039.45,1467.22 2068.38,1466.4 2097.3,1465.61 2126.23,1464.84 2155.16,1464.09 2184.09,1463.37 2213.02,1462.67 2241.94,1461.99 2270.87,1461.33 2299.8,1460.69" fill="none" stroke="#000" stroke-width="8.5" stroke-dasharray="30.9 29.18"/>
</g>
<g class="k">
<path d="M506.26 2122.4V2244.7M488.96 2122.4H525.96M488.96 2244.7H525.96" stroke="#000" stroke-width="5.9" fill="none"/>
<path d="M582.92 1974.5V2100M565.62 1974.5H602.62M565.62 2100H602.62" stroke="#000" stroke-width="5.9" fill="none"/>
<path d="M690.68 1815.5V1952.2M673.38 1815.5H710.38M673.38 1952.2H710.38" stroke="#000" stroke-width="5.9" fill="none"/>
<path d="M799.16 1717.7V1856M781.86 1717.7H818.86M781.86 1856H818.86" stroke="#000" stroke-width="5.9" fill="none"/>
<path d="M907.64 1638.2V1805.8M890.34 1638.2H927.34M890.34 1805.8H927.34" stroke="#000" stroke-width="5.9" fill="none"/>
<path d="M1016.12 1620V1775.6M998.82 1620H1035.82M998.82 1775.6H1035.82" stroke="#000" stroke-width="5.9" fill="none"/>
<path d="M1124.6 1541V1709.5M1107.3 1541H1144.3M1107.3 1709.5H1144.3" stroke="#000" stroke-width="5.9" fill="none"/>
<path d="M1233.08 1541.9V1704.7M1215.78 1541.9H1252.78M1215.78 1704.7H1252.78" stroke="#000" stroke-width="5.9" fill="none"/>
<path d="M1341.56 1513.4V1673.2M1324.26 1513.4H1361.26M1324.26 1673.2H1361.26" stroke="#000" stroke-width="5.9" fill="none"/>
<path d="M1450.04 1478.4V1637.5M1432.74 1478.4H1469.74M1432.74 1637.5H1469.74" stroke="#000" stroke-width="5.9" fill="none"/>
<path d="M1558.52 1459.8V1619.9M1541.22 1459.8H1578.22M1541.22 1619.9H1578.22" stroke="#000" stroke-width="5.9" fill="none"/>
<path d="M1667 1442.2V1601.8M1649.7 1442.2H1686.7M1649.7 1601.8H1686.7" stroke="#000" stroke-width="5.9" fill="none"/>
<path d="M1775.48 1442.8V1603.2M1758.18 1442.8H1795.18M1758.18 1603.2H1795.18" stroke="#000" stroke-width="5.9" fill="none"/>
<path d="M1883.96 1439.5V1601.8M1866.66 1439.5H1903.66M1866.66 1601.8H1903.66" stroke="#000" stroke-width="5.9" fill="none"/>
<path d="M1992.44 1421.8V1585.7M1975.14 1421.8H2012.14M1975.14 1585.7H2012.14" stroke="#000" stroke-width="5.9" fill="none"/>
<path d="M2100.92 1412.2V1576.5M2083.62 1412.2H2120.62M2083.62 1576.5H2120.62" stroke="#000" stroke-width="5.9" fill="none"/>
<path d="M2209.4 1395.8V1562.9M2192.1 1395.8H2229.1M2192.1 1562.9H2229.1" stroke="#000" stroke-width="5.9" fill="none"/>
<polyline points="506.26,2183.5 582.92,2037 690.68,1884 799.16,1786.8 907.64,1722 1016.12,1697 1124.6,1625 1233.08,1623.3 1341.56,1593.3 1450.04,1557.8 1558.52,1539.8 1667,1522 1775.48,1523 1883.96,1520 1992.44,1503.7 2100.92,1494.5 2209.4,1479.4" fill="none" stroke="#000" stroke-width="5.8" stroke-linejoin="round"/>
<polygon points="506.26,2160.7 486.52,2194.9 526.01,2194.9" fill="#fff" stroke="#000" stroke-width="6.2" stroke-miterlimit="10"/>
<polygon points="582.92,2014.2 563.18,2048.4 602.67,2048.4" fill="#fff" stroke="#000" stroke-width="6.2" stroke-miterlimit="10"/>
<polygon points="690.68,1861.2 670.94,1895.4 710.42,1895.4" fill="#fff" stroke="#000" stroke-width="6.2" stroke-miterlimit="10"/>
<polygon points="799.16,1764 779.42,1798.2 818.9,1798.2" fill="#fff" stroke="#000" stroke-width="6.2" stroke-miterlimit="10"/>
<polygon points="907.64,1699.2 887.9,1733.4 927.38,1733.4" fill="#fff" stroke="#000" stroke-width="6.2" stroke-miterlimit="10"/>
<polygon points="1016.12,1674.2 996.38,1708.4 1035.86,1708.4" fill="#fff" stroke="#000" stroke-width="6.2" stroke-miterlimit="10"/>
<polygon points="1124.6,1602.2 1104.86,1636.4 1144.34,1636.4" fill="#fff" stroke="#000" stroke-width="6.2" stroke-miterlimit="10"/>
<polygon points="1233.08,1600.5 1213.34,1634.7 1252.82,1634.7" fill="#fff" stroke="#000" stroke-width="6.2" stroke-miterlimit="10"/>
<polygon points="1341.56,1570.5 1321.82,1604.7 1361.3,1604.7" fill="#fff" stroke="#000" stroke-width="6.2" stroke-miterlimit="10"/>
<polygon points="1450.04,1535 1430.3,1569.2 1469.78,1569.2" fill="#fff" stroke="#000" stroke-width="6.2" stroke-miterlimit="10"/>
<polygon points="1558.52,1517 1538.78,1551.2 1578.26,1551.2" fill="#fff" stroke="#000" stroke-width="6.2" stroke-miterlimit="10"/>
<polygon points="1667,1499.2 1647.26,1533.4 1686.74,1533.4" fill="#fff" stroke="#000" stroke-width="6.2" stroke-miterlimit="10"/>
<polygon points="1775.48,1500.2 1755.74,1534.4 1795.22,1534.4" fill="#fff" stroke="#000" stroke-width="6.2" stroke-miterlimit="10"/>
<polygon points="1883.96,1497.2 1864.22,1531.4 1903.7,1531.4" fill="#fff" stroke="#000" stroke-width="6.2" stroke-miterlimit="10"/>
<polygon points="1992.44,1480.9 1972.7,1515.1 2012.18,1515.1" fill="#fff" stroke="#000" stroke-width="6.2" stroke-miterlimit="10"/>
<polygon points="2100.92,1471.7 2081.18,1505.9 2120.66,1505.9" fill="#fff" stroke="#000" stroke-width="6.2" stroke-miterlimit="10"/>
<polygon points="2209.4,1456.6 2189.66,1490.8 2229.14,1490.8" fill="#fff" stroke="#000" stroke-width="6.2" stroke-miterlimit="10"/>
</g>
<g class="r">
<path d="M506.26 2164.2V2284.1M488.96 2164.2H525.96M488.96 2284.1H525.96" stroke="#f00" stroke-width="5.9" fill="none"/>
<path d="M582.92 1972.8V2099.1M565.62 1972.8H602.62M565.62 2099.1H602.62" stroke="#f00" stroke-width="5.9" fill="none"/>
<path d="M690.68 1710.9V1853M673.38 1710.9H710.38M673.38 1853H710.38" stroke="#f00" stroke-width="5.9" fill="none"/>
<path d="M799.16 1692.1V1831.7M781.86 1692.1H818.86M781.86 1831.7H818.86" stroke="#f00" stroke-width="5.9" fill="none"/>
<path d="M907.64 1605.8V1781M890.34 1605.8H927.34M890.34 1781H927.34" stroke="#f00" stroke-width="5.9" fill="none"/>
<path d="M1016.12 1589V1762.9M998.82 1589H1035.82M998.82 1762.9H1035.82" stroke="#f00" stroke-width="5.9" fill="none"/>
<path d="M1124.6 1536.5V1703.3M1107.3 1536.5H1144.3M1107.3 1703.3H1144.3" stroke="#f00" stroke-width="5.9" fill="none"/>
<path d="M1233.08 1524.9V1688M1215.78 1524.9H1252.78M1215.78 1688H1252.78" stroke="#f00" stroke-width="5.9" fill="none"/>
<path d="M1341.56 1473.9V1634.8M1324.26 1473.9H1361.26M1324.26 1634.8H1361.26" stroke="#f00" stroke-width="5.9" fill="none"/>
<path d="M1450.04 1478.4V1637.7M1432.74 1478.4H1469.74M1432.74 1637.7H1469.74" stroke="#f00" stroke-width="5.9" fill="none"/>
<path d="M1558.52 1471.1V1630.1M1541.22 1471.1H1578.22M1541.22 1630.1H1578.22" stroke="#f00" stroke-width="5.9" fill="none"/>
<path d="M1667 1454.1V1613.5M1649.7 1454.1H1686.7M1649.7 1613.5H1686.7" stroke="#f00" stroke-width="5.9" fill="none"/>
<path d="M1775.48 1419.9V1582.9M1758.18 1419.9H1795.18M1758.18 1582.9H1795.18" stroke="#f00" stroke-width="5.9" fill="none"/>
<path d="M1883.96 1434.7V1599.1M1866.66 1434.7H1903.66M1866.66 1599.1H1903.66" stroke="#f00" stroke-width="5.9" fill="none"/>
<path d="M1992.44 1442.9V1605M1975.14 1442.9H2012.14M1975.14 1605H2012.14" stroke="#f00" stroke-width="5.9" fill="none"/>
<path d="M2100.92 1416V1579.4M2083.62 1416H2120.62M2083.62 1579.4H2120.62" stroke="#f00" stroke-width="5.9" fill="none"/>
<path d="M2209.4 1389.9V1556.2M2192.1 1389.9H2229.1M2192.1 1556.2H2229.1" stroke="#f00" stroke-width="5.9" fill="none"/>
<polyline points="506.26,2224 582.92,2036.5 690.68,1781.8 799.16,1761.5 907.64,1693.4 1016.12,1676 1124.6,1619.5 1233.08,1606.4 1341.56,1554.3 1450.04,1558 1558.52,1550.6 1667,1534 1775.48,1501.5 1883.96,1516.9 1992.44,1524.2 2100.92,1497.7 2209.4,1473" fill="none" stroke="#f00" stroke-width="5.8" stroke-linejoin="round"/>
<circle cx="506.26" cy="2224" r="17.75" fill="#f00" stroke="#000" stroke-width="6.2"/>
<circle cx="582.92" cy="2036.5" r="17.75" fill="#f00" stroke="#000" stroke-width="6.2"/>
<circle cx="690.68" cy="1781.8" r="17.75" fill="#f00" stroke="#000" stroke-width="6.2"/>
<circle cx="799.16" cy="1761.5" r="17.75" fill="#f00" stroke="#000" stroke-width="6.2"/>
<circle cx="907.64" cy="1693.4" r="17.75" fill="#f00" stroke="#000" stroke-width="6.2"/>
<circle cx="1016.12" cy="1676" r="17.75" fill="#f00" stroke="#000" stroke-width="6.2"/>
<circle cx="1124.6" cy="1619.5" r="17.75" fill="#f00" stroke="#000" stroke-width="6.2"/>
<circle cx="1233.08" cy="1606.4" r="17.75" fill="#f00" stroke="#000" stroke-width="6.2"/>
<circle cx="1341.56" cy="1554.3" r="17.75" fill="#f00" stroke="#000" stroke-width="6.2"/>
<circle cx="1450.04" cy="1558" r="17.75" fill="#f00" stroke="#000" stroke-width="6.2"/>
<circle cx="1558.52" cy="1550.6" r="17.75" fill="#f00" stroke="#000" stroke-width="6.2"/>
<circle cx="1667" cy="1534" r="17.75" fill="#f00" stroke="#000" stroke-width="6.2"/>
<circle cx="1775.48" cy="1501.5" r="17.75" fill="#f00" stroke="#000" stroke-width="6.2"/>
<circle cx="1883.96" cy="1516.9" r="17.75" fill="#f00" stroke="#000" stroke-width="6.2"/>
<circle cx="1992.44" cy="1524.2" r="17.75" fill="#f00" stroke="#000" stroke-width="6.2"/>
<circle cx="2100.92" cy="1497.7" r="17.75" fill="#f00" stroke="#000" stroke-width="6.2"/>
<circle cx="2209.4" cy="1473" r="17.75" fill="#f00" stroke="#000" stroke-width="6.2"/>
</g>
<g class="b">
<path d="M506.26 2129V2297.4M488.96 2129H525.96M488.96 2297.4H525.96" stroke="#00f" stroke-width="5.9" fill="none"/>
<path d="M582.92 1917.2V2069.8M565.62 1917.2H602.62M565.62 2069.8H602.62" stroke="#00f" stroke-width="5.9" fill="none"/>
<path d="M690.68 1816.1V1957M673.38 1816.1H710.38M673.38 1957H710.38" stroke="#00f" stroke-width="5.9" fill="none"/>
<path d="M799.16 1710.9V1849.2M781.86 1710.9H818.86M781.86 1849.2H818.86" stroke="#00f" stroke-width="5.9" fill="none"/>
<path d="M907.64 1597.7V1758.1M890.34 1597.7H927.34M890.34 1758.1H927.34" stroke="#00f" stroke-width="5.9" fill="none"/>
<path d="M1016.12 1586.4V1758.1M998.82 1586.4H1035.82M998.82 1758.1H1035.82" stroke="#00f" stroke-width="5.9" fill="none"/>
<path d="M1124.6 1544.3V1722.5M1107.3 1544.3H1144.3M1107.3 1722.5H1144.3" stroke="#00f" stroke-width="5.9" fill="none"/>
<path d="M1233.08 1512V1676.7M1215.78 1512H1252.78M1215.78 1676.7H1252.78" stroke="#00f" stroke-width="5.9" fill="none"/>
<path d="M1341.56 1506.5V1669.4M1324.26 1506.5H1361.26M1324.26 1669.4H1361.26" stroke="#00f" stroke-width="5.9" fill="none"/>
<path d="M1450.04 1456.8V1618M1432.74 1456.8H1469.74M1432.74 1618H1469.74" stroke="#00f" stroke-width="5.9" fill="none"/>
<path d="M1558.52 1442.8V1604M1541.22 1442.8H1578.22M1541.22 1604H1578.22" stroke="#00f" stroke-width="5.9" fill="none"/>
<path d="M1667 1457.6V1616.6M1649.7 1457.6H1686.7M1649.7 1616.6H1686.7" stroke="#00f" stroke-width="5.9" fill="none"/>
<path d="M1775.48 1433.3V1595.9M1758.18 1433.3H1795.18M1758.18 1595.9H1795.18" stroke="#00f" stroke-width="5.9" fill="none"/>
<path d="M1883.96 1428V1591.8M1866.66 1428H1903.66M1866.66 1591.8H1903.66" stroke="#00f" stroke-width="5.9" fill="none"/>
<path d="M1992.44 1404.2V1572.7M1975.14 1404.2H2012.14M1975.14 1572.7H2012.14" stroke="#00f" stroke-width="5.9" fill="none"/>
<path d="M2100.92 1399.8V1572.6M2083.62 1399.8H2120.62M2083.62 1572.6H2120.62" stroke="#00f" stroke-width="5.9" fill="none"/>
<path d="M2209.4 1380.4V1550.8M2192.1 1380.4H2229.1M2192.1 1550.8H2229.1" stroke="#00f" stroke-width="5.9" fill="none"/>
<polyline points="506.26,2212.5 582.92,1994 690.68,1885.8 799.16,1780.2 907.64,1677.9 1016.12,1672.5 1124.6,1633.4 1233.08,1594.2 1341.56,1588 1450.04,1537.3 1558.52,1523.6 1667,1537.1 1775.48,1515 1883.96,1509.8 1992.44,1488.2 2100.92,1486.8 2209.4,1465.3" fill="none" stroke="#00f" stroke-width="5.8" stroke-linejoin="round"/>
<polygon points="529.36,2212.5 495.16,2192.76 495.16,2232.24" fill="#00f" stroke="#000" stroke-width="6.2" stroke-miterlimit="10"/>
<polygon points="606.02,1994 571.82,1974.26 571.82,2013.74" fill="#00f" stroke="#000" stroke-width="6.2" stroke-miterlimit="10"/>
<polygon points="713.78,1885.8 679.58,1866.06 679.58,1905.54" fill="#00f" stroke="#000" stroke-width="6.2" stroke-miterlimit="10"/>
<polygon points="822.26,1780.2 788.06,1760.46 788.06,1799.94" fill="#00f" stroke="#000" stroke-width="6.2" stroke-miterlimit="10"/>
<polygon points="930.74,1677.9 896.54,1658.16 896.54,1697.64" fill="#00f" stroke="#000" stroke-width="6.2" stroke-miterlimit="10"/>
<polygon points="1039.22,1672.5 1005.02,1652.76 1005.02,1692.24" fill="#00f" stroke="#000" stroke-width="6.2" stroke-miterlimit="10"/>
<polygon points="1147.7,1633.4 1113.5,1613.66 1113.5,1653.14" fill="#00f" stroke="#000" stroke-width="6.2" stroke-miterlimit="10"/>
<polygon points="1256.18,1594.2 1221.98,1574.46 1221.98,1613.94" fill="#00f" stroke="#000" stroke-width="6.2" stroke-miterlimit="10"/>
<polygon points="1364.66,1588 1330.46,1568.26 1330.46,1607.74" fill="#00f" stroke="#000" stroke-width="6.2" stroke-miterlimit="10"/>
<polygon points="1473.14,1537.3 1438.94,1517.56 1438.94,1557.04" fill="#00f" stroke="#000" stroke-width="6.2" stroke-miterlimit="10"/>
<polygon points="1581.62,1523.6 1547.42,1503.86 1547.42,1543.34" fill="#00f" stroke="#000" stroke-width="6.2" stroke-miterlimit="10"/>
<polygon points="1690.1,1537.1 1655.9,1517.36 1655.9,1556.84" fill="#00f" stroke="#000" stroke-width="6.2" stroke-miterlimit="10"/>
<polygon points="1798.58,1515 1764.38,1495.26 1764.38,1534.74" fill="#00f" stroke="#000" stroke-width="6.2" stroke-miterlimit="10"/>
<polygon points="1907.06,1509.8 1872.86,1490.06 1872.86,1529.54" fill="#00f" stroke="#000" stroke-width="6.2" stroke-miterlimit="10"/>
<polygon points="2015.54,1488.2 1981.34,1468.46 1981.34,1507.94" fill="#00f" stroke="#000" stroke-width="6.2" stroke-miterlimit="10"/>
<polygon points="2124.02,1486.8 2089.82,1467.06 2089.82,1506.54" fill="#00f" stroke="#000" stroke-width="6.2" stroke-miterlimit="10"/>
<polygon points="2232.5,1465.3 2198.3,1445.56 2198.3,1485.04" fill="#00f" stroke="#000" stroke-width="6.2" stroke-miterlimit="10"/>
</g>
</g>
<text transform="translate(290.59 2260.3) scale(0.98 1.01)" text-anchor="end" class="tk">0.12</text>
<text transform="translate(290.59 2083.3) scale(0.98 1.01)" text-anchor="end" class="tk">0.14</text>
<text transform="translate(290.59 1906.3) scale(0.98 1.01)" text-anchor="end" class="tk">0.16</text>
<text transform="translate(290.59 1729.3) scale(0.98 1.01)" text-anchor="end" class="tk">0.18</text>
<text transform="translate(290.59 1552.3) scale(0.98 1.01)" text-anchor="end" class="tk">0.2</text>
<text transform="translate(310.5 2393.7) scale(0.98 1.01)" text-anchor="middle" class="tk">0</text>
<text transform="translate(672.04 2393.7) scale(0.98 1.01)" text-anchor="middle" class="tk">100</text>
<text transform="translate(1033.58 2393.7) scale(0.98 1.01)" text-anchor="middle" class="tk">200</text>
<text transform="translate(1395.12 2393.7) scale(0.98 1.01)" text-anchor="middle" class="tk">300</text>
<text transform="translate(1756.66 2393.7) scale(0.98 1.01)" text-anchor="middle" class="tk">400</text>
<text transform="translate(2118.2 2393.7) scale(0.98 1.01)" text-anchor="middle" class="tk">500</text>
<text transform="translate(107.7 1839.5) rotate(-90) scale(1.15 1)" text-anchor="middle" class="ax">St</text>
<text transform="translate(1307.3 2483.8) scale(1.04 1)" text-anchor="middle" class="ax">Re</text>
<text x="1260.2" y="2600" text-anchor="middle" class="cp">(<tspan dx="1.4" style="font-size:87px">b</tspan><tspan class="rp" dx="0.6">)</tspan></text>
</g>
<g id="plot-c">
<g class="grid">
<rect x="671" y="2717.5" width="3" height="939" fill="#262626" fill-opacity="0.15"/>
<rect x="1033" y="2717.5" width="3" height="939" fill="#262626" fill-opacity="0.15"/>
<rect x="1394" y="2717.5" width="3" height="939" fill="#262626" fill-opacity="0.15"/>
<rect x="1756" y="2717.5" width="3" height="939" fill="#262626" fill-opacity="0.15"/>
<rect x="2118" y="2717.5" width="2" height="939" fill="#262626" fill-opacity="0.15"/>
<rect x="311.5" y="3264" width="1988" height="3" fill="#262626" fill-opacity="0.15"/>
<rect x="311.5" y="3116" width="1988" height="3" fill="#262626" fill-opacity="0.15"/>
<rect x="311.5" y="2967" width="1988" height="3" fill="#262626" fill-opacity="0.15"/>
<rect x="311.5" y="2819" width="1988" height="3" fill="#262626" fill-opacity="0.15"/>
<rect x="311.5" y="3580" width="1988" height="3" fill="#262626" fill-opacity="0.15"/>
</g>
<g class="axes">
<path d="M311.5 3488V2717.5H2299.5V3488" fill="none" stroke="#262626" stroke-width="3"/>
<path d="M311.5 3507V3656.5H2299.5V3507" fill="none" stroke="#262626" stroke-width="3"/>
<rect x="671" y="2717.5" width="3" height="21.5" fill="#262626"/>
<rect x="1033" y="2717.5" width="3" height="21.5" fill="#262626"/>
<rect x="1394" y="2717.5" width="3" height="21.5" fill="#262626"/>
<rect x="1756" y="2717.5" width="3" height="21.5" fill="#262626"/>
<rect x="2117" y="2717.5" width="3" height="21.5" fill="#262626"/>
<rect x="346" y="2717.5" width="3" height="11.3" fill="#262626"/>
<rect x="382" y="2717.5" width="3" height="11.3" fill="#262626"/>
<rect x="418" y="2717.5" width="3" height="11.3" fill="#262626"/>
<rect x="454" y="2717.5" width="3" height="11.3" fill="#262626"/>
<rect x="490" y="2717.5" width="3" height="11.3" fill="#262626"/>
<rect x="526" y="2717.5" width="3" height="11.3" fill="#262626"/>
<rect x="563" y="2717.5" width="3" height="11.3" fill="#262626"/>
<rect x="599" y="2717.5" width="3" height="11.3" fill="#262626"/>
<rect x="635" y="2717.5" width="3" height="11.3" fill="#262626"/>
<rect x="707" y="2717.5" width="3" height="11.3" fill="#262626"/>
<rect x="743" y="2717.5" width="3" height="11.3" fill="#262626"/>
<rect x="780" y="2717.5" width="3" height="11.3" fill="#262626"/>
<rect x="816" y="2717.5" width="3" height="11.3" fill="#262626"/>
<rect x="852" y="2717.5" width="3" height="11.3" fill="#262626"/>
<rect x="888" y="2717.5" width="3" height="11.3" fill="#262626"/>
<rect x="924" y="2717.5" width="3" height="11.3" fill="#262626"/>
<rect x="960" y="2717.5" width="3" height="11.3" fill="#262626"/>
<rect x="996" y="2717.5" width="3" height="11.3" fill="#262626"/>
<rect x="1069" y="2717.5" width="3" height="11.3" fill="#262626"/>
<rect x="1105" y="2717.5" width="3" height="11.3" fill="#262626"/>
<rect x="1141" y="2717.5" width="3" height="11.3" fill="#262626"/>
<rect x="1177" y="2717.5" width="3" height="11.3" fill="#262626"/>
<rect x="1213" y="2717.5" width="3" height="11.3" fill="#262626"/>
<rect x="1250" y="2717.5" width="3" height="11.3" fill="#262626"/>
<rect x="1286" y="2717.5" width="3" height="11.3" fill="#262626"/>
<rect x="1322" y="2717.5" width="3" height="11.3" fill="#262626"/>
<rect x="1358" y="2717.5" width="3" height="11.3" fill="#262626"/>
<rect x="1430" y="2717.5" width="3" height="11.3" fill="#262626"/>
<rect x="1466" y="2717.5" width="3" height="11.3" fill="#262626"/>
<rect x="1503" y="2717.5" width="3" height="11.3" fill="#262626"/>
<rect x="1539" y="2717.5" width="3" height="11.3" fill="#262626"/>
<rect x="1575" y="2717.5" width="3" height="11.3" fill="#262626"/>
<rect x="1611" y="2717.5" width="3" height="11.3" fill="#262626"/>
<rect x="1647" y="2717.5" width="3" height="11.3" fill="#262626"/>
<rect x="1683" y="2717.5" width="3" height="11.3" fill="#262626"/>
<rect x="1720" y="2717.5" width="3" height="11.3" fill="#262626"/>
<rect x="1792" y="2717.5" width="3" height="11.3" fill="#262626"/>
<rect x="1828" y="2717.5" width="3" height="11.3" fill="#262626"/>
<rect x="1864" y="2717.5" width="3" height="11.3" fill="#262626"/>
<rect x="1900" y="2717.5" width="3" height="11.3" fill="#262626"/>
<rect x="1936" y="2717.5" width="3" height="11.3" fill="#262626"/>
<rect x="1973" y="2717.5" width="3" height="11.3" fill="#262626"/>
<rect x="2009" y="2717.5" width="3" height="11.3" fill="#262626"/>
<rect x="2045" y="2717.5" width="3" height="11.3" fill="#262626"/>
<rect x="2081" y="2717.5" width="3" height="11.3" fill="#262626"/>
<rect x="2153" y="2717.5" width="3" height="11.3" fill="#262626"/>
<rect x="2190" y="2717.5" width="3" height="11.3" fill="#262626"/>
<rect x="2226" y="2717.5" width="3" height="11.3" fill="#262626"/>
<rect x="2262" y="2717.5" width="3" height="11.3" fill="#262626"/>
<rect x="671" y="3635.2" width="3" height="21.3" fill="#262626"/>
<rect x="1033" y="3635.2" width="3" height="21.3" fill="#262626"/>
<rect x="1394" y="3635.2" width="3" height="21.3" fill="#262626"/>
<rect x="1756" y="3635.2" width="3" height="21.3" fill="#262626"/>
<rect x="2117" y="3635.2" width="3" height="21.3" fill="#262626"/>
<rect x="346" y="3645.2" width="3" height="11.3" fill="#262626"/>
<rect x="382" y="3645.2" width="3" height="11.3" fill="#262626"/>
<rect x="418" y="3645.2" width="3" height="11.3" fill="#262626"/>
<rect x="454" y="3645.2" width="3" height="11.3" fill="#262626"/>
<rect x="490" y="3645.2" width="3" height="11.3" fill="#262626"/>
<rect x="526" y="3645.2" width="3" height="11.3" fill="#262626"/>
<rect x="563" y="3645.2" width="3" height="11.3" fill="#262626"/>
<rect x="599" y="3645.2" width="3" height="11.3" fill="#262626"/>
<rect x="635" y="3645.2" width="3" height="11.3" fill="#262626"/>
<rect x="707" y="3645.2" width="3" height="11.3" fill="#262626"/>
<rect x="743" y="3645.2" width="3" height="11.3" fill="#262626"/>
<rect x="780" y="3645.2" width="3" height="11.3" fill="#262626"/>
<rect x="816" y="3645.2" width="3" height="11.3" fill="#262626"/>
<rect x="852" y="3645.2" width="3" height="11.3" fill="#262626"/>
<rect x="888" y="3645.2" width="3" height="11.3" fill="#262626"/>
<rect x="924" y="3645.2" width="3" height="11.3" fill="#262626"/>
<rect x="960" y="3645.2" width="3" height="11.3" fill="#262626"/>
<rect x="996" y="3645.2" width="3" height="11.3" fill="#262626"/>
<rect x="1069" y="3645.2" width="3" height="11.3" fill="#262626"/>
<rect x="1105" y="3645.2" width="3" height="11.3" fill="#262626"/>
<rect x="1141" y="3645.2" width="3" height="11.3" fill="#262626"/>
<rect x="1177" y="3645.2" width="3" height="11.3" fill="#262626"/>
<rect x="1213" y="3645.2" width="3" height="11.3" fill="#262626"/>
<rect x="1250" y="3645.2" width="3" height="11.3" fill="#262626"/>
<rect x="1286" y="3645.2" width="3" height="11.3" fill="#262626"/>
<rect x="1322" y="3645.2" width="3" height="11.3" fill="#262626"/>
<rect x="1358" y="3645.2" width="3" height="11.3" fill="#262626"/>
<rect x="1430" y="3645.2" width="3" height="11.3" fill="#262626"/>
<rect x="1466" y="3645.2" width="3" height="11.3" fill="#262626"/>
<rect x="1503" y="3645.2" width="3" height="11.3" fill="#262626"/>
<rect x="1539" y="3645.2" width="3" height="11.3" fill="#262626"/>
<rect x="1575" y="3645.2" width="3" height="11.3" fill="#262626"/>
<rect x="1611" y="3645.2" width="3" height="11.3" fill="#262626"/>
<rect x="1647" y="3645.2" width="3" height="11.3" fill="#262626"/>
<rect x="1683" y="3645.2" width="3" height="11.3" fill="#262626"/>
<rect x="1720" y="3645.2" width="3" height="11.3" fill="#262626"/>
<rect x="1792" y="3645.2" width="3" height="11.3" fill="#262626"/>
<rect x="1828" y="3645.2" width="3" height="11.3" fill="#262626"/>
<rect x="1864" y="3645.2" width="3" height="11.3" fill="#262626"/>
<rect x="1900" y="3645.2" width="3" height="11.3" fill="#262626"/>
<rect x="1936" y="3645.2" width="3" height="11.3" fill="#262626"/>
<rect x="1973" y="3645.2" width="3" height="11.3" fill="#262626"/>
<rect x="2009" y="3645.2" width="3" height="11.3" fill="#262626"/>
<rect x="2045" y="3645.2" width="3" height="11.3" fill="#262626"/>
<rect x="2081" y="3645.2" width="3" height="11.3" fill="#262626"/>
<rect x="2153" y="3645.2" width="3" height="11.3" fill="#262626"/>
<rect x="2190" y="3645.2" width="3" height="11.3" fill="#262626"/>
<rect x="2226" y="3645.2" width="3" height="11.3" fill="#262626"/>
<rect x="2262" y="3645.2" width="3" height="11.3" fill="#262626"/>
<rect x="311.5" y="3472" width="11.5" height="3" fill="#262626"/>
<rect x="311.5" y="3442" width="11.5" height="3" fill="#262626"/>
<rect x="311.5" y="3412" width="11.5" height="3" fill="#262626"/>
<rect x="311.5" y="3383" width="11.5" height="3" fill="#262626"/>
<rect x="311.5" y="3353" width="11.5" height="3" fill="#262626"/>
<rect x="311.5" y="3323" width="11.5" height="3" fill="#262626"/>
<rect x="311.5" y="3294" width="11.5" height="3" fill="#262626"/>
<rect x="311.5" y="3264" width="21.5" height="3" fill="#262626"/>
<rect x="311.5" y="3234" width="11.5" height="3" fill="#262626"/>
<rect x="311.5" y="3205" width="11.5" height="3" fill="#262626"/>
<rect x="311.5" y="3175" width="11.5" height="3" fill="#262626"/>
<rect x="311.5" y="3145" width="11.5" height="3" fill="#262626"/>
<rect x="311.5" y="3116" width="21.5" height="3" fill="#262626"/>
<rect x="311.5" y="3086" width="11.5" height="3" fill="#262626"/>
<rect x="311.5" y="3056" width="11.5" height="3" fill="#262626"/>
<rect x="311.5" y="3027" width="11.5" height="3" fill="#262626"/>
<rect x="311.5" y="2997" width="11.5" height="3" fill="#262626"/>
<rect x="311.5" y="2967" width="21.5" height="3" fill="#262626"/>
<rect x="311.5" y="2938" width="11.5" height="3" fill="#262626"/>
<rect x="311.5" y="2908" width="11.5" height="3" fill="#262626"/>
<rect x="311.5" y="2878" width="11.5" height="3" fill="#262626"/>
<rect x="311.5" y="2849" width="11.5" height="3" fill="#262626"/>
<rect x="311.5" y="2819" width="21.5" height="3" fill="#262626"/>
<rect x="311.5" y="2789" width="11.5" height="3" fill="#262626"/>
<rect x="311.5" y="2760" width="11.5" height="3" fill="#262626"/>
<rect x="311.5" y="2730" width="11.5" height="3" fill="#262626"/>
<rect x="311.5" y="3617" width="11.5" height="2" fill="#262626"/>
<rect x="311.5" y="3580" width="21.5" height="3" fill="#262626"/>
<rect x="311.5" y="3542" width="11.5" height="3" fill="#262626"/>
</g>
<g class="data" shape-rendering="crispEdges">
<g class="fit">
<polyline points="491.8,3398.04 499.03,3372.4 506.26,3348.67 513.5,3326.63 520.73,3306.11 527.96,3286.95 535.19,3269.04 542.42,3252.24 549.66,3236.46 556.89,3221.61 564.12,3207.61 571.35,3194.38 578.58,3181.87 585.82,3170.02 593.05,3158.78 600.28,3148.09 607.51,3137.93 614.74,3128.26 621.98,3119.03 629.21,3110.22 636.44,3101.81 643.67,3093.76 650.9,3086.05 658.14,3078.67 665.37,3071.58 672.6,3064.78 679.83,3058.25 687.06,3051.96 694.3,3045.92 701.53,3040.09 708.76,3034.48 715.99,3029.07 723.22,3023.85 730.46,3018.81 737.69,3013.94 744.92,3009.24 752.15,3004.68 759.38,3000.28 766.62,2996.01 773.85,2991.88 781.08,2987.87 788.31,2983.99 795.54,2980.22 802.78,2976.56 810.01,2973.01 817.24,2969.56 824.47,2966.21 831.7,2962.95 838.94,2959.78 846.17,2956.7 853.4,2953.69 860.63,2950.77 867.86,2947.92 875.1,2945.15 882.33,2942.44 889.56,2939.81 896.79,2937.24 904.02,2934.73 911.26,2932.28 918.49,2929.89 925.72,2927.56 932.95,2925.28 940.18,2923.05 947.42,2920.87 954.65,2918.74 961.88,2916.66 969.11,2914.63 976.34,2912.64 983.58,2910.69 990.81,2908.79 998.04,2906.92 1005.27,2905.09 1012.5,2903.3 1019.74,2901.55 1026.97,2899.83 1034.2,2898.15 1041.43,2896.5 1048.66,2894.88 1055.9,2893.3 1063.13,2891.74 1070.36,2890.22 1077.59,2888.72 1084.82,2887.25 1092.06,2885.81 1099.29,2884.39 1106.52,2883 1113.75,2881.64 1120.98,2880.3 1128.22,2878.98 1135.45,2877.69 1142.68,2876.42" fill="none" stroke="#000" stroke-width="8.5"/>
<polyline points="1142.68,2818.32 1171.61,2815.4 1200.54,2812.68 1229.46,2810.12 1258.39,2807.72 1287.32,2805.46 1316.25,2803.33 1345.18,2801.32 1374.1,2799.43 1403.03,2797.63 1431.96,2795.92 1460.89,2794.3 1489.82,2792.76 1518.74,2791.29 1547.67,2789.89 1576.6,2788.56 1605.53,2787.29 1634.46,2786.07 1663.38,2784.9 1692.31,2783.78 1721.24,2782.71 1750.17,2781.68 1779.1,2780.69 1808.02,2779.74 1836.95,2778.83 1865.88,2777.95 1894.81,2777.1 1923.74,2776.28 1952.66,2775.49 1981.59,2774.73 2010.52,2774 2039.45,2773.29 2068.38,2772.6 2097.3,2771.93 2126.23,2771.29 2155.16,2770.67 2184.09,2770.06 2213.02,2769.47 2241.94,2768.91 2270.87,2768.35 2299.8,2767.82" fill="none" stroke="#000" stroke-width="8.5" stroke-dasharray="30.9 29.18"/>
</g>
<g class="k">
<path d="M506.26 3285.1V3393M488.96 3285.1H525.96M488.96 3393H525.96" stroke="#000" stroke-width="5.9" fill="none"/>
<path d="M582.92 3126V3235.2M565.62 3126H602.62M565.62 3235.2H602.62" stroke="#000" stroke-width="5.9" fill="none"/>
<path d="M690.68 3002.4V3118.3M673.38 3002.4H710.38M673.38 3118.3H710.38" stroke="#000" stroke-width="5.9" fill="none"/>
<path d="M799.16 2935.8V3056M781.86 2935.8H818.86M781.86 3056H818.86" stroke="#000" stroke-width="5.9" fill="none"/>
<path d="M907.64 2912.1V3046.3M890.34 2912.1H927.34M890.34 3046.3H927.34" stroke="#000" stroke-width="5.9" fill="none"/>
<path d="M1016.12 2900V3030.7M998.82 2900H1035.82M998.82 3030.7H1035.82" stroke="#000" stroke-width="5.9" fill="none"/>
<path d="M1124.6 2853.1V2993M1107.3 2853.1H1144.3M1107.3 2993H1144.3" stroke="#000" stroke-width="5.9" fill="none"/>
<path d="M1233.08 2811V2948M1215.78 2811H1252.78M1215.78 2948H1252.78" stroke="#000" stroke-width="5.9" fill="none"/>
<path d="M1341.56 2793V2925M1324.26 2793H1361.26M1324.26 2925H1361.26" stroke="#000" stroke-width="5.9" fill="none"/>
<path d="M1450.04 2786.3V2917M1432.74 2786.3H1469.74M1432.74 2917H1469.74" stroke="#000" stroke-width="5.9" fill="none"/>
<path d="M1558.52 2766V2898.9M1541.22 2766H1578.22M1541.22 2898.9H1578.22" stroke="#000" stroke-width="5.9" fill="none"/>
<path d="M1667 2763.3V2896M1649.7 2763.3H1686.7M1649.7 2896H1686.7" stroke="#000" stroke-width="5.9" fill="none"/>
<path d="M1775.48 2751.8V2886M1758.18 2751.8H1795.18M1758.18 2886H1795.18" stroke="#000" stroke-width="5.9" fill="none"/>
<path d="M1883.96 2751.8V2888.7M1866.66 2751.8H1903.66M1866.66 2888.7H1903.66" stroke="#000" stroke-width="5.9" fill="none"/>
<path d="M1992.44 2733.8V2869.9M1975.14 2733.8H2012.14M1975.14 2869.9H2012.14" stroke="#000" stroke-width="5.9" fill="none"/>
<path d="M2100.92 2727.4V2864.6M2083.62 2727.4H2120.62M2083.62 2864.6H2120.62" stroke="#000" stroke-width="5.9" fill="none"/>
<path d="M2209.4 2729.8V2866.8M2192.1 2729.8H2229.1M2192.1 2866.8H2229.1" stroke="#000" stroke-width="5.9" fill="none"/>
<polyline points="506.26,3339 582.92,3180.6 690.68,3060.3 799.16,2996 907.64,2979 1016.12,2964.5 1124.6,2922.5 1233.08,2879.5 1341.56,2859 1450.04,2851 1558.52,2831.5 1667,2829 1775.48,2818.8 1883.96,2820.2 1992.44,2801.8 2100.92,2795.5 2209.4,2798" fill="none" stroke="#000" stroke-width="5.8" stroke-linejoin="round"/>
<polygon points="506.26,3316.2 486.52,3350.4 526.01,3350.4" fill="#fff" stroke="#000" stroke-width="6.2" stroke-miterlimit="10"/>
<polygon points="582.92,3157.8 563.18,3192 602.67,3192" fill="#fff" stroke="#000" stroke-width="6.2" stroke-miterlimit="10"/>
<polygon points="690.68,3037.5 670.94,3071.7 710.42,3071.7" fill="#fff" stroke="#000" stroke-width="6.2" stroke-miterlimit="10"/>
<polygon points="799.16,2973.2 779.42,3007.4 818.9,3007.4" fill="#fff" stroke="#000" stroke-width="6.2" stroke-miterlimit="10"/>
<polygon points="907.64,2956.2 887.9,2990.4 927.38,2990.4" fill="#fff" stroke="#000" stroke-width="6.2" stroke-miterlimit="10"/>
<polygon points="1016.12,2941.7 996.38,2975.9 1035.86,2975.9" fill="#fff" stroke="#000" stroke-width="6.2" stroke-miterlimit="10"/>
<polygon points="1124.6,2899.7 1104.86,2933.9 1144.34,2933.9" fill="#fff" stroke="#000" stroke-width="6.2" stroke-miterlimit="10"/>
<polygon points="1233.08,2856.7 1213.34,2890.9 1252.82,2890.9" fill="#fff" stroke="#000" stroke-width="6.2" stroke-miterlimit="10"/>
<polygon points="1341.56,2836.2 1321.82,2870.4 1361.3,2870.4" fill="#fff" stroke="#000" stroke-width="6.2" stroke-miterlimit="10"/>
<polygon points="1450.04,2828.2 1430.3,2862.4 1469.78,2862.4" fill="#fff" stroke="#000" stroke-width="6.2" stroke-miterlimit="10"/>
<polygon points="1558.52,2808.7 1538.78,2842.9 1578.26,2842.9" fill="#fff" stroke="#000" stroke-width="6.2" stroke-miterlimit="10"/>
<polygon points="1667,2806.2 1647.26,2840.4 1686.74,2840.4" fill="#fff" stroke="#000" stroke-width="6.2" stroke-miterlimit="10"/>
<polygon points="1775.48,2796 1755.74,2830.2 1795.22,2830.2" fill="#fff" stroke="#000" stroke-width="6.2" stroke-miterlimit="10"/>
<polygon points="1883.96,2797.4 1864.22,2831.6 1903.7,2831.6" fill="#fff" stroke="#000" stroke-width="6.2" stroke-miterlimit="10"/>
<polygon points="1992.44,2779 1972.7,2813.2 2012.18,2813.2" fill="#fff" stroke="#000" stroke-width="6.2" stroke-miterlimit="10"/>
<polygon points="2100.92,2772.7 2081.18,2806.9 2120.66,2806.9" fill="#fff" stroke="#000" stroke-width="6.2" stroke-miterlimit="10"/>
<polygon points="2209.4,2775.2 2189.66,2809.4 2229.14,2809.4" fill="#fff" stroke="#000" stroke-width="6.2" stroke-miterlimit="10"/>
</g>
<g class="r">
<path d="M506.26 3344.9V3445.4M488.96 3344.9H525.96M488.96 3445.4H525.96" stroke="#f00" stroke-width="5.9" fill="none"/>
<path d="M582.92 3131.4V3240.1M565.62 3131.4H602.62M565.62 3240.1H602.62" stroke="#f00" stroke-width="5.9" fill="none"/>
<path d="M690.68 3038V3151.2M673.38 3038H710.38M673.38 3151.2H710.38" stroke="#f00" stroke-width="5.9" fill="none"/>
<path d="M799.16 2903.2V3057.6M781.86 2903.2H818.86M781.86 3057.6H818.86" stroke="#f00" stroke-width="5.9" fill="none"/>
<path d="M907.64 2901.3V3040.9M890.34 2901.3H927.34M890.34 3040.9H927.34" stroke="#f00" stroke-width="5.9" fill="none"/>
<path d="M1016.12 2884.1V3020.8M998.82 2884.1H1035.82M998.82 3020.8H1035.82" stroke="#f00" stroke-width="5.9" fill="none"/>
<path d="M1124.6 2818.6V2974.1M1107.3 2818.6H1144.3M1107.3 2974.1H1144.3" stroke="#f00" stroke-width="5.9" fill="none"/>
<path d="M1233.08 2804.6V2941.8M1215.78 2804.6H1252.78M1215.78 2941.8H1252.78" stroke="#f00" stroke-width="5.9" fill="none"/>
<path d="M1341.56 2801.9V2934M1324.26 2801.9H1361.26M1324.26 2934H1361.26" stroke="#f00" stroke-width="5.9" fill="none"/>
<path d="M1450.04 2766V2898.9M1432.74 2766H1469.74M1432.74 2898.9H1469.74" stroke="#f00" stroke-width="5.9" fill="none"/>
<path d="M1558.52 2762.8V2894.6M1541.22 2762.8H1578.22M1541.22 2894.6H1578.22" stroke="#f00" stroke-width="5.9" fill="none"/>
<path d="M1667 2758V2890.8M1649.7 2758H1686.7M1649.7 2890.8H1686.7" stroke="#f00" stroke-width="5.9" fill="none"/>
<path d="M1775.48 2735V2871.2M1758.18 2735H1795.18M1758.18 2871.2H1795.18" stroke="#f00" stroke-width="5.9" fill="none"/>
<path d="M1883.96 2743.1V2877.9M1866.66 2743.1H1903.66M1866.66 2877.9H1903.66" stroke="#f00" stroke-width="5.9" fill="none"/>
<path d="M1992.44 2727.9V2863.6M1975.14 2727.9H2012.14M1975.14 2863.6H2012.14" stroke="#f00" stroke-width="5.9" fill="none"/>
<path d="M2100.92 2720V2856.8M2083.62 2720H2120.62M2083.62 2856.8H2120.62" stroke="#f00" stroke-width="5.9" fill="none"/>
<path d="M2209.4 2717.2V2856M2192.1 2717.2H2229.1M2192.1 2856H2229.1" stroke="#f00" stroke-width="5.9" fill="none"/>
<polyline points="506.26,3395 582.92,3185.6 690.68,3094.4 799.16,2980.2 907.64,2970.7 1016.12,2952.5 1124.6,2896.5 1233.08,2873.2 1341.56,2868.2 1450.04,2832.5 1558.52,2828.7 1667,2824.4 1775.48,2803.1 1883.96,2810.5 1992.44,2795.7 2100.92,2788 2209.4,2786.6" fill="none" stroke="#f00" stroke-width="5.8" stroke-linejoin="round"/>
<circle cx="506.26" cy="3395" r="17.75" fill="#f00" stroke="#000" stroke-width="6.2"/>
<circle cx="582.92" cy="3185.6" r="17.75" fill="#f00" stroke="#000" stroke-width="6.2"/>
<circle cx="690.68" cy="3094.4" r="17.75" fill="#f00" stroke="#000" stroke-width="6.2"/>
<circle cx="799.16" cy="2980.2" r="17.75" fill="#f00" stroke="#000" stroke-width="6.2"/>
<circle cx="907.64" cy="2970.7" r="17.75" fill="#f00" stroke="#000" stroke-width="6.2"/>
<circle cx="1016.12" cy="2952.5" r="17.75" fill="#f00" stroke="#000" stroke-width="6.2"/>
<circle cx="1124.6" cy="2896.5" r="17.75" fill="#f00" stroke="#000" stroke-width="6.2"/>
<circle cx="1233.08" cy="2873.2" r="17.75" fill="#f00" stroke="#000" stroke-width="6.2"/>
<circle cx="1341.56" cy="2868.2" r="17.75" fill="#f00" stroke="#000" stroke-width="6.2"/>
<circle cx="1450.04" cy="2832.5" r="17.75" fill="#f00" stroke="#000" stroke-width="6.2"/>
<circle cx="1558.52" cy="2828.7" r="17.75" fill="#f00" stroke="#000" stroke-width="6.2"/>
<circle cx="1667" cy="2824.4" r="17.75" fill="#f00" stroke="#000" stroke-width="6.2"/>
<circle cx="1775.48" cy="2803.1" r="17.75" fill="#f00" stroke="#000" stroke-width="6.2"/>
<circle cx="1883.96" cy="2810.5" r="17.75" fill="#f00" stroke="#000" stroke-width="6.2"/>
<circle cx="1992.44" cy="2795.7" r="17.75" fill="#f00" stroke="#000" stroke-width="6.2"/>
<circle cx="2100.92" cy="2788" r="17.75" fill="#f00" stroke="#000" stroke-width="6.2"/>
<circle cx="2209.4" cy="2786.6" r="17.75" fill="#f00" stroke="#000" stroke-width="6.2"/>
</g>
<clipPath id="cu"><rect x="311.5" y="2677.5" width="1988" height="816.5"/></clipPath>
<clipPath id="cl"><rect x="271.5" y="3494" width="2068" height="202.5"/></clipPath>
<g clip-path="url(#cu)">
<g class="b">
<path d="M1233.08 2810.5V2948M1215.78 2810.5H1252.78M1215.78 2948H1252.78" stroke="#00f" stroke-width="5.9" fill="none"/>
<path d="M1341.56 2770.9V2904.9M1324.26 2770.9H1361.26M1324.26 2904.9H1361.26" stroke="#00f" stroke-width="5.9" fill="none"/>
<path d="M1450.04 2749.9V2885.2M1432.74 2749.9H1469.74M1432.74 2885.2H1469.74" stroke="#00f" stroke-width="5.9" fill="none"/>
<path d="M1558.52 2750.4V2886.8M1541.22 2750.4H1578.22M1541.22 2886.8H1578.22" stroke="#00f" stroke-width="5.9" fill="none"/>
<path d="M1667 2741.8V2877.1M1649.7 2741.8H1686.7M1649.7 2877.1H1686.7" stroke="#00f" stroke-width="5.9" fill="none"/>
<path d="M1775.48 2731V2867.1M1758.18 2731H1795.18M1758.18 2867.1H1795.18" stroke="#00f" stroke-width="5.9" fill="none"/>
<path d="M1883.96 2731.8V2867.9M1866.66 2731.8H1903.66M1866.66 2867.9H1903.66" stroke="#00f" stroke-width="5.9" fill="none"/>
<path d="M1992.44 2719.6V2855.9M1975.14 2719.6H2012.14M1975.14 2855.9H2012.14" stroke="#00f" stroke-width="5.9" fill="none"/>
<path d="M2100.92 2717.2V2854.1M2083.62 2717.2H2120.62M2083.62 2854.1H2120.62" stroke="#00f" stroke-width="5.9" fill="none"/>
<path d="M2209.4 2724.7V2861.9M2192.1 2724.7H2229.1M2192.1 2861.9H2229.1" stroke="#00f" stroke-width="5.9" fill="none"/>
<polyline points="1124.6,4303.5 1233.08,2879.2 1341.56,2838 1450.04,2817.6 1558.52,2818.6 1667,2809.6 1775.48,2799.1 1883.96,2800 1992.44,2787.6 2100.92,2785.8 2209.4,2793.4" fill="none" stroke="#00f" stroke-width="5.8" stroke-linejoin="round"/>
<polygon points="1256.18,2879.2 1221.98,2859.46 1221.98,2898.94" fill="#00f" stroke="#000" stroke-width="6.2" stroke-miterlimit="10"/>
<polygon points="1364.66,2838 1330.46,2818.26 1330.46,2857.74" fill="#00f" stroke="#000" stroke-width="6.2" stroke-miterlimit="10"/>
<polygon points="1473.14,2817.6 1438.94,2797.86 1438.94,2837.34" fill="#00f" stroke="#000" stroke-width="6.2" stroke-miterlimit="10"/>
<polygon points="1581.62,2818.6 1547.42,2798.86 1547.42,2838.34" fill="#00f" stroke="#000" stroke-width="6.2" stroke-miterlimit="10"/>
<polygon points="1690.1,2809.6 1655.9,2789.86 1655.9,2829.34" fill="#00f" stroke="#000" stroke-width="6.2" stroke-miterlimit="10"/>
<polygon points="1798.58,2799.1 1764.38,2779.36 1764.38,2818.84" fill="#00f" stroke="#000" stroke-width="6.2" stroke-miterlimit="10"/>
<polygon points="1907.06,2800 1872.86,2780.26 1872.86,2819.74" fill="#00f" stroke="#000" stroke-width="6.2" stroke-miterlimit="10"/>
<polygon points="2015.54,2787.6 1981.34,2767.86 1981.34,2807.34" fill="#00f" stroke="#000" stroke-width="6.2" stroke-miterlimit="10"/>
<polygon points="2124.02,2785.8 2089.82,2766.06 2089.82,2805.54" fill="#00f" stroke="#000" stroke-width="6.2" stroke-miterlimit="10"/>
<polygon points="2232.5,2793.4 2198.3,2773.66 2198.3,2813.14" fill="#00f" stroke="#000" stroke-width="6.2" stroke-miterlimit="10"/>
</g>
</g>
<g clip-path="url(#cl)"><g class="b">
<path d="M506.26 3656.5V3656.5M488.96 3656.5H525.96M488.96 3656.5H525.96" stroke="#00f" stroke-width="5.9" fill="none"/>
<path d="M582.92 3656.5V3656.5M565.62 3656.5H602.62M565.62 3656.5H602.62" stroke="#00f" stroke-width="5.9" fill="none"/>
<path d="M690.68 3656.5V3656.5M673.38 3656.5H710.38M673.38 3656.5H710.38" stroke="#00f" stroke-width="5.9" fill="none"/>
<path d="M799.16 3656.5V3656.5M781.86 3656.5H818.86M781.86 3656.5H818.86" stroke="#00f" stroke-width="5.9" fill="none"/>
<path d="M907.64 3656.5V3656.5M890.34 3656.5H927.34M890.34 3656.5H927.34" stroke="#00f" stroke-width="5.9" fill="none"/>
<path d="M1016.12 3656.5V3656.5M998.82 3656.5H1035.82M998.82 3656.5H1035.82" stroke="#00f" stroke-width="5.9" fill="none"/>
<path d="M1124.6 3656.5V3656.5M1107.3 3656.5H1144.3M1107.3 3656.5H1144.3" stroke="#00f" stroke-width="5.9" fill="none"/>
<polyline points="506.26,3656.5 582.92,3656.5 690.68,3656.5 799.16,3656.5 907.64,3656.5 1016.12,3656.5 1124.6,3656.5 1233.08,2209.23" fill="none" stroke="#00f" stroke-width="5.8"/>
<polygon points="529.36,3656.5 495.16,3636.76 495.16,3676.24" fill="#00f" stroke="#000" stroke-width="6.2" stroke-miterlimit="10"/>
<polygon points="606.02,3656.5 571.82,3636.76 571.82,3676.24" fill="#00f" stroke="#000" stroke-width="6.2" stroke-miterlimit="10"/>
<polygon points="713.78,3656.5 679.58,3636.76 679.58,3676.24" fill="#00f" stroke="#000" stroke-width="6.2" stroke-miterlimit="10"/>
<polygon points="822.26,3656.5 788.06,3636.76 788.06,3676.24" fill="#00f" stroke="#000" stroke-width="6.2" stroke-miterlimit="10"/>
<polygon points="930.74,3656.5 896.54,3636.76 896.54,3676.24" fill="#00f" stroke="#000" stroke-width="6.2" stroke-miterlimit="10"/>
<polygon points="1039.22,3656.5 1005.02,3636.76 1005.02,3676.24" fill="#00f" stroke="#000" stroke-width="6.2" stroke-miterlimit="10"/>
<polygon points="1147.7,3656.5 1113.5,3636.76 1113.5,3676.24" fill="#00f" stroke="#000" stroke-width="6.2" stroke-miterlimit="10"/>
</g></g>
</g>
<g class="break">
<polygon points="310,3488.04 334.89,3487.34 359.77,3486.63 384.66,3485.94 409.55,3485.26 434.44,3484.59 459.32,3483.95 484.21,3483.33 509.1,3482.74 533.99,3482.18 558.88,3481.66 583.76,3481.18 608.65,3480.74 633.54,3480.34 658.42,3479.99 683.31,3479.7 708.2,3479.45 733.09,3479.25 757.98,3479.11 782.86,3479.03 807.75,3479 832.64,3479.03 857.52,3479.11 882.41,3479.24 907.3,3479.44 932.19,3479.68 957.08,3479.97 981.96,3480.32 1006.85,3480.71 1031.74,3481.15 1056.62,3481.63 1081.51,3482.15 1106.4,3482.7 1131.29,3483.29 1156.17,3483.91 1181.06,3484.55 1205.95,3485.21 1230.84,3485.9 1255.72,3486.59 1280.61,3487.29 1305.5,3488 1330.39,3488.71 1355.28,3489.41 1380.16,3490.1 1405.05,3490.79 1429.94,3491.45 1454.83,3492.09 1479.71,3492.71 1504.6,3493.3 1529.49,3493.85 1554.38,3494.37 1579.26,3494.85 1604.15,3495.29 1629.04,3495.68 1653.92,3496.03 1678.81,3496.32 1703.7,3496.56 1728.59,3496.76 1753.47,3496.89 1778.36,3496.97 1803.25,3497 1828.14,3496.97 1853.03,3496.89 1877.91,3496.75 1902.8,3496.55 1927.69,3496.3 1952.58,3496.01 1977.46,3495.66 2002.35,3495.26 2027.24,3494.82 2052.12,3494.34 2077.01,3493.82 2101.9,3493.26 2126.79,3492.67 2151.68,3492.05 2176.56,3491.41 2201.45,3490.74 2226.34,3490.06 2251.22,3489.37 2276.11,3488.66 2301,3487.96 2301,3506.96 2276.11,3507.66 2251.22,3508.37 2226.34,3509.06 2201.45,3509.74 2176.56,3510.41 2151.68,3511.05 2126.79,3511.67 2101.9,3512.26 2077.01,3512.82 2052.12,3513.34 2027.24,3513.82 2002.35,3514.26 1977.46,3514.66 1952.58,3515.01 1927.69,3515.3 1902.8,3515.55 1877.91,3515.75 1853.03,3515.89 1828.14,3515.97 1803.25,3516 1778.36,3515.97 1753.47,3515.89 1728.59,3515.76 1703.7,3515.56 1678.81,3515.32 1653.92,3515.03 1629.04,3514.68 1604.15,3514.29 1579.26,3513.85 1554.38,3513.37 1529.49,3512.85 1504.6,3512.3 1479.71,3511.71 1454.83,3511.09 1429.94,3510.45 1405.05,3509.79 1380.16,3509.1 1355.28,3508.41 1330.39,3507.71 1305.5,3507 1280.61,3506.29 1255.72,3505.59 1230.84,3504.9 1205.95,3504.21 1181.06,3503.55 1156.17,3502.91 1131.29,3502.29 1106.4,3501.7 1081.51,3501.15 1056.62,3500.63 1031.74,3500.15 1006.85,3499.71 981.96,3499.32 957.08,3498.97 932.19,3498.68 907.3,3498.44 882.41,3498.24 857.52,3498.11 832.64,3498.03 807.75,3498 782.86,3498.03 757.98,3498.11 733.09,3498.25 708.2,3498.45 683.31,3498.7 658.42,3498.99 633.54,3499.34 608.65,3499.74 583.76,3500.18 558.88,3500.66 533.99,3501.18 509.1,3501.74 484.21,3502.33 459.32,3502.95 434.44,3503.59 409.55,3504.26 384.66,3504.94 359.77,3505.63 334.89,3506.34 310,3507.04" fill="#f0f0f0"/>
<polyline points="310,3488.04 334.89,3487.34 359.77,3486.63 384.66,3485.94 409.55,3485.26 434.44,3484.59 459.32,3483.95 484.21,3483.33 509.1,3482.74 533.99,3482.18 558.88,3481.66 583.76,3481.18 608.65,3480.74 633.54,3480.34 658.42,3479.99 683.31,3479.7 708.2,3479.45 733.09,3479.25 757.98,3479.11 782.86,3479.03 807.75,3479 832.64,3479.03 857.52,3479.11 882.41,3479.24 907.3,3479.44 932.19,3479.68 957.08,3479.97 981.96,3480.32 1006.85,3480.71 1031.74,3481.15 1056.62,3481.63 1081.51,3482.15 1106.4,3482.7 1131.29,3483.29 1156.17,3483.91 1181.06,3484.55 1205.95,3485.21 1230.84,3485.9 1255.72,3486.59 1280.61,3487.29 1305.5,3488 1330.39,3488.71 1355.28,3489.41 1380.16,3490.1 1405.05,3490.79 1429.94,3491.45 1454.83,3492.09 1479.71,3492.71 1504.6,3493.3 1529.49,3493.85 1554.38,3494.37 1579.26,3494.85 1604.15,3495.29 1629.04,3495.68 1653.92,3496.03 1678.81,3496.32 1703.7,3496.56 1728.59,3496.76 1753.47,3496.89 1778.36,3496.97 1803.25,3497 1828.14,3496.97 1853.03,3496.89 1877.91,3496.75 1902.8,3496.55 1927.69,3496.3 1952.58,3496.01 1977.46,3495.66 2002.35,3495.26 2027.24,3494.82 2052.12,3494.34 2077.01,3493.82 2101.9,3493.26 2126.79,3492.67 2151.68,3492.05 2176.56,3491.41 2201.45,3490.74 2226.34,3490.06 2251.22,3489.37 2276.11,3488.66 2301,3487.96" fill="none" stroke="#000" stroke-width="2"/>
<polyline points="310,3507.04 334.89,3506.34 359.77,3505.63 384.66,3504.94 409.55,3504.26 434.44,3503.59 459.32,3502.95 484.21,3502.33 509.1,3501.74 533.99,3501.18 558.88,3500.66 583.76,3500.18 608.65,3499.74 633.54,3499.34 658.42,3498.99 683.31,3498.7 708.2,3498.45 733.09,3498.25 757.98,3498.11 782.86,3498.03 807.75,3498 832.64,3498.03 857.52,3498.11 882.41,3498.24 907.3,3498.44 932.19,3498.68 957.08,3498.97 981.96,3499.32 1006.85,3499.71 1031.74,3500.15 1056.62,3500.63 1081.51,3501.15 1106.4,3501.7 1131.29,3502.29 1156.17,3502.91 1181.06,3503.55 1205.95,3504.21 1230.84,3504.9 1255.72,3505.59 1280.61,3506.29 1305.5,3507 1330.39,3507.71 1355.28,3508.41 1380.16,3509.1 1405.05,3509.79 1429.94,3510.45 1454.83,3511.09 1479.71,3511.71 1504.6,3512.3 1529.49,3512.85 1554.38,3513.37 1579.26,3513.85 1604.15,3514.29 1629.04,3514.68 1653.92,3515.03 1678.81,3515.32 1703.7,3515.56 1728.59,3515.76 1753.47,3515.89 1778.36,3515.97 1803.25,3516 1828.14,3515.97 1853.03,3515.89 1877.91,3515.75 1902.8,3515.55 1927.69,3515.3 1952.58,3515.01 1977.46,3514.66 2002.35,3514.26 2027.24,3513.82 2052.12,3513.34 2077.01,3512.82 2101.9,3512.26 2126.79,3511.67 2151.68,3511.05 2176.56,3510.41 2201.45,3509.74 2226.34,3509.06 2251.22,3508.37 2276.11,3507.66 2301,3506.96" fill="none" stroke="#000" stroke-width="2"/>
</g>
<text transform="translate(290.59 3294.3) scale(0.98 1.01)" text-anchor="end" class="tk">0.14</text>
<text transform="translate(290.59 3146.3) scale(0.98 1.01)" text-anchor="end" class="tk">0.16</text>
<text transform="translate(290.59 2997.3) scale(0.98 1.01)" text-anchor="end" class="tk">0.18</text>
<text transform="translate(290.59 2849.3) scale(0.98 1.01)" text-anchor="end" class="tk">0.2</text>
<text transform="translate(290.59 3610.3) scale(0.98 1.01)" text-anchor="end" class="tk">0.01</text>
<text transform="translate(290.59 3685.8) scale(0.98 1.01)" text-anchor="end" class="tk">0</text>
<text transform="translate(310.5 3752) scale(0.98 1.01)" text-anchor="middle" class="tk">0</text>
<text transform="translate(672.04 3752) scale(0.98 1.01)" text-anchor="middle" class="tk">100</text>
<text transform="translate(1033.58 3752) scale(0.98 1.01)" text-anchor="middle" class="tk">200</text>
<text transform="translate(1395.12 3752) scale(0.98 1.01)" text-anchor="middle" class="tk">300</text>
<text transform="translate(1756.66 3752) scale(0.98 1.01)" text-anchor="middle" class="tk">400</text>
<text transform="translate(2118.2 3752) scale(0.98 1.01)" text-anchor="middle" class="tk">500</text>
<text transform="translate(146 3187) rotate(-90) scale(1.15 1)" text-anchor="middle" class="ax">St</text>
<text transform="translate(1307.3 3842.8) scale(1.04 1)" text-anchor="middle" class="ax">Re</text>
<text x="1260.2" y="3938.2" text-anchor="middle" class="cp">(<tspan dx="1.4">c</tspan><tspan class="rp" dx="0.6">)</tspan></text>
</g>
</svg></body></html>
